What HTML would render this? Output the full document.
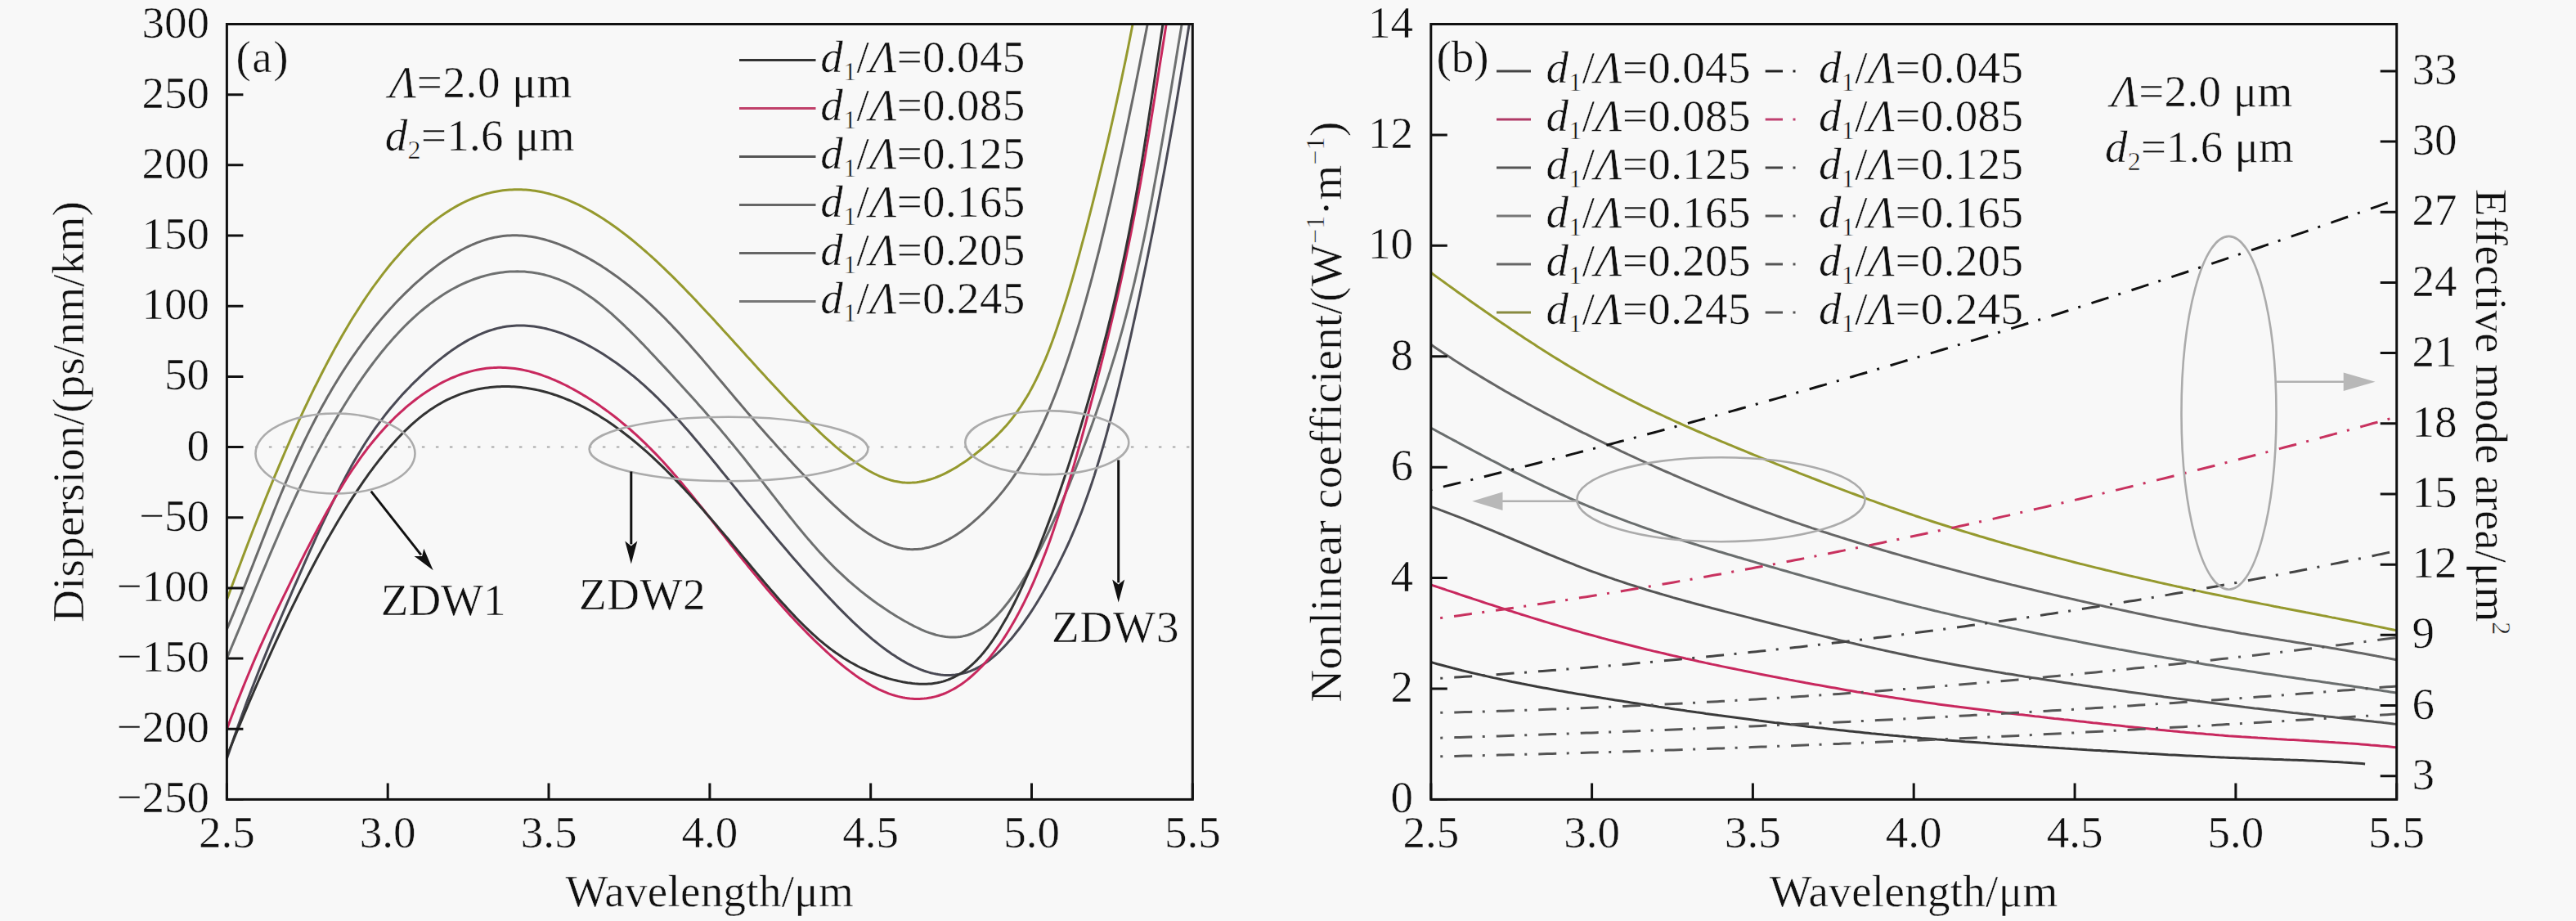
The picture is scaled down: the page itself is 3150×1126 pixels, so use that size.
<!DOCTYPE html>
<html><head><meta charset="utf-8"><title>Dispersion and nonlinearity</title>
<style>html,body{margin:0;padding:0;background:#f8f8f8;overflow:hidden}svg{display:block}text{font-family:"Liberation Serif","Times New Roman",serif;fill:#111;stroke:#f8f8f8;stroke-width:0.5px;paint-order:normal}</style></head><body>
<svg width="3150" height="1126" viewBox="0 0 3150 1126">
<rect x="0" y="0" width="3150" height="1126" fill="#f8f8f8"/>
<defs><clipPath id="ca"><rect x="277.4" y="29.5" width="1180.9" height="947.9"/></clipPath><clipPath id="cb"><rect x="1749.8" y="29.5" width="1180.8999999999999" height="947.9"/></clipPath></defs>
<line x1="289.4" y1="546.5" x2="1458.3" y2="546.5" stroke="#a8a8a8" stroke-width="2" stroke-dasharray="3.5 13.5" stroke-dashoffset="11.5"/>
<g clip-path="url(#ca)" fill="none" stroke-width="3" stroke-linejoin="round">
<path d="M277.4,733.3 L280.2,725.7 L283.0,718.1 L285.8,710.5 L288.6,702.9 L291.5,695.4 L294.3,688.0 L297.1,680.5 L299.9,673.1 L302.7,665.8 L305.5,658.5 L308.3,651.2 L311.1,644.0 L314.0,636.8 L316.8,629.6 L319.6,622.6 L322.4,615.5 L325.2,608.5 L328.0,601.6 L330.8,594.7 L333.6,587.9 L336.4,581.1 L339.3,574.3 L342.1,567.7 L344.9,561.1 L347.7,554.5 L350.5,548.0 L353.3,541.6 L356.1,535.2 L358.9,528.9 L361.8,522.6 L364.6,516.4 L367.4,510.3 L370.2,504.2 L373.0,498.2 L375.8,492.3 L378.6,486.4 L381.4,480.6 L384.2,474.8 L387.1,469.2 L389.9,463.6 L392.7,458.0 L395.5,452.5 L398.3,447.1 L401.1,441.8 L403.9,436.5 L406.7,431.3 L409.5,426.1 L412.4,421.1 L415.2,416.1 L418.0,411.1 L420.8,406.3 L423.6,401.5 L426.4,396.8 L429.2,392.1 L432.0,387.5 L434.9,383.0 L437.7,378.6 L440.5,374.2 L443.3,369.9 L446.1,365.7 L448.9,361.5 L451.7,357.5 L454.5,353.4 L457.3,349.5 L460.2,345.6 L463.0,341.8 L465.8,338.1 L468.6,334.4 L471.4,330.8 L474.2,327.3 L477.0,323.8 L479.8,320.4 L482.7,317.1 L485.5,313.9 L488.3,310.7 L491.1,307.5 L493.9,304.5 L496.7,301.5 L499.5,298.6 L502.3,295.7 L505.1,292.9 L508.0,290.2 L510.8,287.5 L513.6,284.9 L516.4,282.4 L519.2,279.9 L522.0,277.5 L524.8,275.2 L527.6,272.9 L530.5,270.7 L533.3,268.5 L536.1,266.4 L538.9,264.4 L541.7,262.4 L544.5,260.5 L547.3,258.7 L550.1,256.9 L552.9,255.2 L555.8,253.5 L558.6,251.9 L561.4,250.4 L564.2,248.9 L567.0,247.5 L569.8,246.2 L572.6,244.9 L575.4,243.7 L578.2,242.5 L581.1,241.4 L583.9,240.4 L586.7,239.4 L589.5,238.5 L592.3,237.6 L595.1,236.8 L597.9,236.1 L600.7,235.4 L603.6,234.7 L606.4,234.2 L609.2,233.7 L612.0,233.2 L614.8,232.8 L617.6,232.5 L620.4,232.2 L623.2,232.0 L626.0,231.9 L628.9,231.8 L631.7,231.7 L634.5,231.7 L637.3,231.8 L640.1,231.9 L642.9,232.1 L645.7,232.3 L648.5,232.6 L651.4,232.9 L654.2,233.3 L657.0,233.8 L659.8,234.3 L662.6,234.8 L665.4,235.4 L668.2,236.1 L671.0,236.8 L673.8,237.6 L676.7,238.4 L679.5,239.2 L682.3,240.1 L685.1,241.1 L687.9,242.1 L690.7,243.1 L693.5,244.2 L696.3,245.4 L699.1,246.6 L702.0,247.8 L704.8,249.1 L707.6,250.4 L710.4,251.8 L713.2,253.3 L716.0,254.7 L718.8,256.2 L721.6,257.8 L724.5,259.4 L727.3,261.1 L730.1,262.8 L732.9,264.5 L735.7,266.3 L738.5,268.1 L741.3,269.9 L744.1,271.8 L746.9,273.7 L749.8,275.7 L752.6,277.7 L755.4,279.8 L758.2,281.9 L761.0,284.0 L763.8,286.1 L766.6,288.3 L769.4,290.5 L772.3,292.8 L775.1,295.1 L777.9,297.4 L780.7,299.8 L783.5,302.2 L786.3,304.6 L789.1,307.0 L791.9,309.5 L794.7,312.0 L797.6,314.5 L800.4,317.1 L803.2,319.7 L806.0,322.3 L808.8,325.0 L811.6,327.7 L814.4,330.4 L817.2,333.1 L820.1,335.8 L822.9,338.6 L825.7,341.4 L828.5,344.2 L831.3,347.1 L834.1,349.9 L836.9,352.8 L839.7,355.7 L842.5,358.6 L845.4,361.5 L848.2,364.5 L851.0,367.4 L853.8,370.4 L856.6,373.4 L859.4,376.4 L862.2,379.4 L865.0,382.5 L867.9,385.5 L870.7,388.5 L873.5,391.6 L876.3,394.7 L879.1,397.7 L881.9,400.8 L884.7,403.9 L887.5,407.0 L890.3,410.1 L893.2,413.2 L896.0,416.3 L898.8,419.4 L901.6,422.5 L904.4,425.6 L907.2,428.7 L910.0,431.8 L912.8,434.9 L915.6,438.0 L918.5,441.1 L921.3,444.2 L924.1,447.3 L926.9,450.4 L929.7,453.5 L932.5,456.6 L935.3,459.6 L938.1,462.7 L941.0,465.7 L943.8,468.8 L946.6,471.8 L949.4,474.8 L952.2,477.8 L955.0,480.8 L957.8,483.8 L960.6,486.7 L963.4,489.7 L966.3,492.6 L969.1,495.5 L971.9,498.4 L974.7,501.3 L977.5,504.1 L980.3,507.0 L983.1,509.8 L985.9,512.6 L988.8,515.4 L991.6,518.1 L994.4,520.8 L997.2,523.5 L1000.0,526.2 L1002.8,528.9 L1005.6,531.5 L1008.4,534.1 L1011.2,536.6 L1014.1,539.2 L1016.9,541.7 L1019.7,544.1 L1022.5,546.6 L1025.3,548.9 L1028.1,551.3 L1030.9,553.6 L1033.7,555.8 L1036.6,558.0 L1039.4,560.2 L1042.2,562.3 L1045.0,564.3 L1047.8,566.3 L1050.6,568.2 L1053.4,570.0 L1056.2,571.8 L1059.0,573.5 L1061.9,575.2 L1064.7,576.7 L1067.5,578.2 L1070.3,579.7 L1073.1,581.0 L1075.9,582.3 L1078.7,583.4 L1081.5,584.5 L1084.3,585.5 L1087.2,586.4 L1090.0,587.3 L1092.8,588.0 L1095.6,588.6 L1098.4,589.1 L1101.2,589.6 L1104.0,589.9 L1106.8,590.1 L1109.7,590.2 L1112.5,590.2 L1115.3,590.1 L1118.1,589.9 L1120.9,589.7 L1123.7,589.3 L1126.5,588.8 L1129.3,588.2 L1132.1,587.6 L1135.0,586.8 L1137.8,586.0 L1140.6,585.1 L1143.4,584.1 L1146.2,583.0 L1149.0,581.8 L1151.8,580.6 L1154.6,579.3 L1157.5,577.9 L1160.3,576.4 L1163.1,574.9 L1165.9,573.3 L1168.7,571.7 L1171.5,569.9 L1174.3,568.1 L1177.1,566.3 L1179.9,564.4 L1182.8,562.4 L1185.6,560.4 L1188.4,558.3 L1191.2,556.2 L1194.0,554.0 L1196.8,551.8 L1199.6,549.5 L1202.4,547.2 L1205.2,544.8 L1208.1,542.4 L1210.9,540.0 L1213.7,537.4 L1216.5,534.8 L1219.3,532.1 L1222.1,529.3 L1224.9,526.4 L1227.7,523.3 L1230.6,520.2 L1233.4,516.9 L1236.2,513.5 L1239.0,509.9 L1241.8,506.1 L1244.6,502.2 L1247.4,498.2 L1250.2,493.9 L1253.0,489.4 L1255.9,484.7 L1258.7,479.9 L1261.5,474.8 L1264.3,469.4 L1267.1,463.8 L1269.9,458.0 L1272.7,451.9 L1275.5,445.5 L1278.4,438.9 L1281.2,432.0 L1284.0,424.8 L1286.8,417.3 L1289.6,409.5 L1292.4,401.4 L1295.2,393.1 L1298.0,384.6 L1300.8,375.8 L1303.7,366.7 L1306.5,357.5 L1309.3,348.0 L1312.1,338.3 L1314.9,328.5 L1317.7,318.4 L1320.5,308.1 L1323.3,297.7 L1326.2,287.1 L1329.0,276.4 L1331.8,265.5 L1334.6,254.5 L1337.4,243.4 L1340.2,232.1 L1343.0,220.7 L1345.8,209.2 L1348.6,197.6 L1351.5,185.8 L1354.3,173.9 L1357.1,161.8 L1359.9,149.5 L1362.7,137.1 L1365.5,124.4 L1368.3,111.5 L1371.1,98.4 L1373.9,85.0 L1376.8,71.4 L1379.6,57.5 L1382.4,43.3 L1385.2,28.9 L1388.0,14.2 L1390.8,-0.9 L1393.6,-16.3 L1396.4,-32.0 L1399.3,-48.1" stroke="#95992e"/>
<path d="M277.4,769.4 L280.3,762.7 L283.1,755.9 L286.0,749.0 L288.8,742.0 L291.7,734.9 L294.6,727.8 L297.4,720.6 L300.3,713.4 L303.1,706.1 L306.0,698.8 L308.9,691.5 L311.7,684.2 L314.6,676.9 L317.5,669.5 L320.3,662.2 L323.2,654.9 L326.0,647.6 L328.9,640.3 L331.8,633.1 L334.6,625.9 L337.5,618.8 L340.3,611.7 L343.2,604.7 L346.1,597.8 L348.9,590.9 L351.8,584.2 L354.6,577.5 L357.5,571.0 L360.4,564.6 L363.2,558.3 L366.1,552.1 L369.0,546.0 L371.8,540.0 L374.7,534.1 L377.5,528.3 L380.4,522.6 L383.3,517.0 L386.1,511.5 L389.0,506.1 L391.8,500.7 L394.7,495.5 L397.6,490.4 L400.4,485.3 L403.3,480.4 L406.1,475.5 L409.0,470.7 L411.9,466.0 L414.7,461.4 L417.6,456.8 L420.4,452.4 L423.3,448.0 L426.2,443.6 L429.0,439.4 L431.9,435.2 L434.8,431.1 L437.6,427.0 L440.5,423.1 L443.3,419.1 L446.2,415.3 L449.1,411.5 L451.9,407.8 L454.8,404.1 L457.6,400.5 L460.5,397.0 L463.4,393.5 L466.2,390.1 L469.1,386.7 L471.9,383.5 L474.8,380.2 L477.7,377.0 L480.5,373.9 L483.4,370.8 L486.3,367.8 L489.1,364.9 L492.0,362.0 L494.8,359.1 L497.7,356.3 L500.6,353.6 L503.4,350.9 L506.3,348.2 L509.1,345.6 L512.0,343.1 L514.9,340.6 L517.7,338.1 L520.6,335.7 L523.4,333.3 L526.3,331.0 L529.2,328.8 L532.0,326.6 L534.9,324.4 L537.8,322.3 L540.6,320.3 L543.5,318.3 L546.3,316.4 L549.2,314.5 L552.1,312.7 L554.9,310.9 L557.8,309.2 L560.6,307.6 L563.5,306.0 L566.4,304.5 L569.2,303.0 L572.1,301.6 L574.9,300.3 L577.8,299.0 L580.7,297.8 L583.5,296.6 L586.4,295.6 L589.2,294.6 L592.1,293.6 L595.0,292.7 L597.8,291.9 L600.7,291.2 L603.6,290.5 L606.4,289.9 L609.3,289.4 L612.1,288.9 L615.0,288.6 L617.9,288.3 L620.7,288.0 L623.6,287.9 L626.4,287.8 L629.3,287.7 L632.2,287.8 L635.0,287.9 L637.9,288.0 L640.7,288.3 L643.6,288.6 L646.5,288.9 L649.3,289.3 L652.2,289.8 L655.1,290.3 L657.9,290.9 L660.8,291.6 L663.6,292.3 L666.5,293.0 L669.4,293.9 L672.2,294.7 L675.1,295.6 L677.9,296.6 L680.8,297.6 L683.7,298.7 L686.5,299.8 L689.4,301.0 L692.2,302.2 L695.1,303.4 L698.0,304.7 L700.8,306.0 L703.7,307.4 L706.5,308.8 L709.4,310.3 L712.3,311.8 L715.1,313.3 L718.0,314.9 L720.9,316.5 L723.7,318.1 L726.6,319.8 L729.4,321.6 L732.3,323.3 L735.2,325.1 L738.0,327.0 L740.9,328.8 L743.7,330.8 L746.6,332.7 L749.5,334.7 L752.3,336.7 L755.2,338.8 L758.0,340.9 L760.9,343.1 L763.8,345.3 L766.6,347.5 L769.5,349.8 L772.4,352.1 L775.2,354.4 L778.1,356.8 L780.9,359.2 L783.8,361.7 L786.7,364.2 L789.5,366.7 L792.4,369.3 L795.2,371.9 L798.1,374.6 L801.0,377.3 L803.8,380.1 L806.7,382.8 L809.5,385.7 L812.4,388.5 L815.3,391.4 L818.1,394.4 L821.0,397.3 L823.8,400.4 L826.7,403.4 L829.6,406.5 L832.4,409.6 L835.3,412.7 L838.2,415.9 L841.0,419.0 L843.9,422.3 L846.7,425.5 L849.6,428.7 L852.5,432.0 L855.3,435.3 L858.2,438.6 L861.0,441.9 L863.9,445.3 L866.8,448.6 L869.6,452.0 L872.5,455.3 L875.3,458.7 L878.2,462.1 L881.1,465.5 L883.9,468.8 L886.8,472.2 L889.7,475.6 L892.5,479.0 L895.4,482.4 L898.2,485.8 L901.1,489.2 L904.0,492.5 L906.8,495.9 L909.7,499.3 L912.5,502.6 L915.4,505.9 L918.3,509.3 L921.1,512.6 L924.0,515.9 L926.8,519.2 L929.7,522.4 L932.6,525.7 L935.4,528.9 L938.3,532.2 L941.2,535.4 L944.0,538.6 L946.9,541.8 L949.7,545.0 L952.6,548.2 L955.5,551.3 L958.3,554.5 L961.2,557.6 L964.0,560.7 L966.9,563.8 L969.8,566.9 L972.6,569.9 L975.5,573.0 L978.3,576.0 L981.2,579.0 L984.1,582.0 L986.9,585.0 L989.8,587.9 L992.6,590.9 L995.5,593.8 L998.4,596.7 L1001.2,599.6 L1004.1,602.4 L1007.0,605.3 L1009.8,608.1 L1012.7,610.9 L1015.5,613.6 L1018.4,616.4 L1021.3,619.1 L1024.1,621.7 L1027.0,624.4 L1029.8,627.0 L1032.7,629.5 L1035.6,632.0 L1038.4,634.5 L1041.3,636.9 L1044.1,639.2 L1047.0,641.5 L1049.9,643.7 L1052.7,645.9 L1055.6,648.0 L1058.5,650.0 L1061.3,651.9 L1064.2,653.8 L1067.0,655.6 L1069.9,657.3 L1072.8,659.0 L1075.6,660.5 L1078.5,662.0 L1081.3,663.3 L1084.2,664.6 L1087.1,665.8 L1089.9,666.9 L1092.8,667.9 L1095.6,668.7 L1098.5,669.5 L1101.4,670.1 L1104.2,670.7 L1107.1,671.1 L1109.9,671.4 L1112.8,671.6 L1115.7,671.7 L1118.5,671.6 L1121.4,671.5 L1124.3,671.2 L1127.1,670.9 L1130.0,670.4 L1132.8,669.8 L1135.7,669.2 L1138.6,668.4 L1141.4,667.5 L1144.3,666.5 L1147.1,665.4 L1150.0,664.3 L1152.9,663.0 L1155.7,661.6 L1158.6,660.2 L1161.4,658.6 L1164.3,657.0 L1167.2,655.2 L1170.0,653.4 L1172.9,651.5 L1175.8,649.5 L1178.6,647.4 L1181.5,645.2 L1184.3,643.0 L1187.2,640.6 L1190.1,638.2 L1192.9,635.7 L1195.8,633.1 L1198.6,630.5 L1201.5,627.8 L1204.4,625.0 L1207.2,622.1 L1210.1,619.1 L1212.9,616.1 L1215.8,612.9 L1218.7,609.7 L1221.5,606.4 L1224.4,602.9 L1227.3,599.4 L1230.1,595.7 L1233.0,591.9 L1235.8,588.0 L1238.7,583.9 L1241.6,579.7 L1244.4,575.4 L1247.3,570.9 L1250.1,566.3 L1253.0,561.5 L1255.9,556.5 L1258.7,551.4 L1261.6,546.1 L1264.4,540.7 L1267.3,535.0 L1270.2,529.2 L1273.0,523.1 L1275.9,516.9 L1278.7,510.5 L1281.6,503.9 L1284.5,497.0 L1287.3,490.0 L1290.2,482.7 L1293.1,475.2 L1295.9,467.5 L1298.8,459.6 L1301.6,451.5 L1304.5,443.1 L1307.4,434.6 L1310.2,425.8 L1313.1,416.8 L1315.9,407.6 L1318.8,398.2 L1321.7,388.6 L1324.5,378.7 L1327.4,368.7 L1330.2,358.4 L1333.1,347.8 L1336.0,337.1 L1338.8,326.1 L1341.7,315.0 L1344.6,303.6 L1347.4,291.9 L1350.3,280.1 L1353.1,268.1 L1356.0,255.9 L1358.9,243.4 L1361.7,230.8 L1364.6,218.0 L1367.4,205.0 L1370.3,191.9 L1373.2,178.5 L1376.0,165.0 L1378.9,151.4 L1381.7,137.6 L1384.6,123.6 L1387.5,109.5 L1390.3,95.2 L1393.2,80.8 L1396.0,66.3 L1398.9,51.7 L1401.8,36.9 L1404.6,22.0 L1407.5,6.8 L1410.4,-8.6 L1413.2,-24.3 L1416.1,-40.3 L1418.9,-56.7" stroke="#6a6a6a"/>
<path d="M277.4,805.0 L280.4,797.9 L283.3,790.8 L286.3,783.7 L289.2,776.6 L292.2,769.5 L295.2,762.3 L298.1,755.1 L301.1,747.9 L304.0,740.8 L307.0,733.6 L310.0,726.4 L312.9,719.2 L315.9,712.1 L318.8,705.0 L321.8,697.9 L324.8,690.8 L327.7,683.7 L330.7,676.7 L333.6,669.8 L336.6,662.8 L339.6,656.0 L342.5,649.2 L345.5,642.4 L348.4,635.7 L351.4,629.1 L354.4,622.5 L357.3,616.1 L360.3,609.7 L363.2,603.4 L366.2,597.1 L369.1,591.0 L372.1,584.9 L375.1,578.9 L378.0,572.9 L381.0,567.1 L383.9,561.3 L386.9,555.6 L389.9,550.0 L392.8,544.5 L395.8,539.0 L398.7,533.6 L401.7,528.3 L404.7,523.1 L407.6,517.9 L410.6,512.8 L413.5,507.8 L416.5,502.9 L419.5,498.0 L422.4,493.2 L425.4,488.5 L428.3,483.9 L431.3,479.3 L434.3,474.9 L437.2,470.4 L440.2,466.1 L443.1,461.8 L446.1,457.6 L449.1,453.5 L452.0,449.5 L455.0,445.5 L457.9,441.6 L460.9,437.8 L463.9,434.0 L466.8,430.3 L469.8,426.7 L472.7,423.1 L475.7,419.7 L478.7,416.3 L481.6,412.9 L484.6,409.7 L487.5,406.5 L490.5,403.4 L493.5,400.3 L496.4,397.3 L499.4,394.4 L502.3,391.6 L505.3,388.8 L508.3,386.1 L511.2,383.5 L514.2,380.9 L517.1,378.5 L520.1,376.0 L523.1,373.7 L526.0,371.4 L529.0,369.2 L531.9,367.0 L534.9,364.9 L537.8,362.9 L540.8,361.0 L543.8,359.1 L546.7,357.3 L549.7,355.5 L552.6,353.8 L555.6,352.2 L558.6,350.6 L561.5,349.1 L564.5,347.7 L567.4,346.3 L570.4,345.0 L573.4,343.8 L576.3,342.6 L579.3,341.5 L582.2,340.5 L585.2,339.5 L588.2,338.5 L591.1,337.7 L594.1,336.9 L597.0,336.1 L600.0,335.4 L603.0,334.8 L605.9,334.2 L608.9,333.7 L611.8,333.3 L614.8,332.9 L617.8,332.6 L620.7,332.3 L623.7,332.1 L626.6,331.9 L629.6,331.9 L632.6,331.8 L635.5,331.9 L638.5,332.0 L641.4,332.1 L644.4,332.4 L647.4,332.7 L650.3,333.0 L653.3,333.4 L656.2,333.9 L659.2,334.5 L662.2,335.1 L665.1,335.8 L668.1,336.6 L671.0,337.4 L674.0,338.3 L677.0,339.3 L679.9,340.3 L682.9,341.4 L685.8,342.6 L688.8,343.8 L691.8,345.2 L694.7,346.5 L697.7,348.0 L700.6,349.6 L703.6,351.2 L706.5,352.9 L709.5,354.6 L712.5,356.5 L715.4,358.4 L718.4,360.4 L721.3,362.4 L724.3,364.5 L727.3,366.7 L730.2,369.0 L733.2,371.3 L736.1,373.7 L739.1,376.1 L742.1,378.6 L745.0,381.2 L748.0,383.7 L750.9,386.4 L753.9,389.1 L756.9,391.8 L759.8,394.6 L762.8,397.4 L765.7,400.3 L768.7,403.1 L771.7,406.1 L774.6,409.0 L777.6,412.0 L780.5,415.0 L783.5,418.1 L786.5,421.1 L789.4,424.2 L792.4,427.3 L795.3,430.5 L798.3,433.6 L801.3,436.7 L804.2,439.9 L807.2,443.1 L810.1,446.2 L813.1,449.4 L816.1,452.6 L819.0,455.8 L822.0,459.0 L824.9,462.2 L827.9,465.5 L830.9,468.7 L833.8,471.9 L836.8,475.2 L839.7,478.4 L842.7,481.7 L845.7,485.0 L848.6,488.3 L851.6,491.6 L854.5,494.9 L857.5,498.3 L860.5,501.6 L863.4,505.0 L866.4,508.4 L869.3,511.8 L872.3,515.2 L875.2,518.6 L878.2,522.1 L881.2,525.6 L884.1,529.1 L887.1,532.6 L890.0,536.1 L893.0,539.7 L896.0,543.3 L898.9,546.9 L901.9,550.5 L904.8,554.1 L907.8,557.8 L910.8,561.5 L913.7,565.2 L916.7,569.0 L919.6,572.7 L922.6,576.5 L925.6,580.3 L928.5,584.1 L931.5,587.9 L934.4,591.7 L937.4,595.5 L940.4,599.3 L943.3,603.1 L946.3,606.9 L949.2,610.7 L952.2,614.5 L955.2,618.3 L958.1,622.1 L961.1,625.8 L964.0,629.5 L967.0,633.2 L970.0,636.9 L972.9,640.6 L975.9,644.2 L978.8,647.8 L981.8,651.4 L984.8,654.9 L987.7,658.4 L990.7,661.8 L993.6,665.3 L996.6,668.6 L999.6,671.9 L1002.5,675.2 L1005.5,678.4 L1008.4,681.6 L1011.4,684.7 L1014.4,687.7 L1017.3,690.7 L1020.3,693.7 L1023.2,696.6 L1026.2,699.4 L1029.2,702.2 L1032.1,704.9 L1035.1,707.6 L1038.0,710.3 L1041.0,712.9 L1043.9,715.4 L1046.9,717.9 L1049.9,720.4 L1052.8,722.8 L1055.8,725.2 L1058.7,727.5 L1061.7,729.8 L1064.7,732.0 L1067.6,734.2 L1070.6,736.4 L1073.5,738.5 L1076.5,740.5 L1079.5,742.6 L1082.4,744.6 L1085.4,746.5 L1088.3,748.4 L1091.3,750.3 L1094.3,752.2 L1097.2,754.0 L1100.2,755.7 L1103.1,757.5 L1106.1,759.2 L1109.1,760.8 L1112.0,762.5 L1115.0,764.0 L1117.9,765.6 L1120.9,767.0 L1123.9,768.4 L1126.8,769.8 L1129.8,771.1 L1132.7,772.3 L1135.7,773.4 L1138.7,774.4 L1141.6,775.3 L1144.6,776.2 L1147.5,776.9 L1150.5,777.6 L1153.5,778.1 L1156.4,778.5 L1159.4,778.8 L1162.3,779.0 L1165.3,779.1 L1168.3,779.0 L1171.2,778.8 L1174.2,778.4 L1177.1,777.9 L1180.1,777.3 L1183.1,776.5 L1186.0,775.5 L1189.0,774.3 L1191.9,773.0 L1194.9,771.5 L1197.9,769.9 L1200.8,768.0 L1203.8,766.0 L1206.7,763.8 L1209.7,761.3 L1212.6,758.7 L1215.6,755.9 L1218.6,753.0 L1221.5,749.8 L1224.5,746.5 L1227.4,743.0 L1230.4,739.3 L1233.4,735.5 L1236.3,731.5 L1239.3,727.3 L1242.2,723.0 L1245.2,718.5 L1248.2,713.9 L1251.1,709.1 L1254.1,704.2 L1257.0,699.1 L1260.0,693.9 L1263.0,688.5 L1265.9,683.0 L1268.9,677.4 L1271.8,671.6 L1274.8,665.7 L1277.8,659.7 L1280.7,653.5 L1283.7,647.3 L1286.6,640.9 L1289.6,634.4 L1292.6,627.7 L1295.5,621.0 L1298.5,614.1 L1301.4,607.1 L1304.4,600.0 L1307.4,592.8 L1310.3,585.5 L1313.3,578.0 L1316.2,570.5 L1319.2,562.8 L1322.2,555.0 L1325.1,547.1 L1328.1,539.1 L1331.0,531.1 L1334.0,522.9 L1337.0,514.6 L1339.9,506.2 L1342.9,497.6 L1345.8,489.0 L1348.8,480.2 L1351.8,471.3 L1354.7,462.2 L1357.7,452.9 L1360.6,443.4 L1363.6,433.7 L1366.6,423.7 L1369.5,413.4 L1372.5,402.8 L1375.4,391.9 L1378.4,380.7 L1381.3,369.1 L1384.3,357.2 L1387.3,344.9 L1390.2,332.1 L1393.2,318.9 L1396.1,305.3 L1399.1,291.2 L1402.1,276.6 L1405.0,261.6 L1408.0,246.2 L1410.9,230.3 L1413.9,214.1 L1416.9,197.6 L1419.8,180.8 L1422.8,163.7 L1425.7,146.4 L1428.7,128.9 L1431.7,111.2 L1434.6,93.4 L1437.6,75.5 L1440.5,57.6 L1443.5,39.6 L1446.5,21.6 L1449.4,3.7 L1452.4,-14.2 L1455.3,-31.9 L1458.3,-49.5" stroke="#6e7070"/>
<path d="M277.4,927.6 L280.4,918.7 L283.4,909.9 L286.3,901.2 L289.3,892.7 L292.3,884.3 L295.3,876.0 L298.3,867.8 L301.2,859.8 L304.2,851.9 L307.2,844.1 L310.2,836.4 L313.2,828.7 L316.1,821.2 L319.1,813.8 L322.1,806.4 L325.1,799.1 L328.0,791.9 L331.0,784.7 L334.0,777.6 L337.0,770.5 L340.0,763.5 L342.9,756.5 L345.9,749.5 L348.9,742.6 L351.9,735.7 L354.9,728.8 L357.8,722.0 L360.8,715.1 L363.8,708.3 L366.8,701.4 L369.8,694.7 L372.7,687.9 L375.7,681.1 L378.7,674.4 L381.7,667.8 L384.7,661.2 L387.6,654.6 L390.6,648.1 L393.6,641.7 L396.6,635.3 L399.6,629.0 L402.5,622.8 L405.5,616.6 L408.5,610.5 L411.5,604.5 L414.5,598.6 L417.4,592.8 L420.4,587.1 L423.4,581.5 L426.4,576.0 L429.3,570.6 L432.3,565.3 L435.3,560.2 L438.3,555.2 L441.3,550.3 L444.2,545.5 L447.2,540.8 L450.2,536.2 L453.2,531.8 L456.2,527.4 L459.1,523.2 L462.1,519.1 L465.1,515.0 L468.1,511.1 L471.1,507.2 L474.0,503.5 L477.0,499.8 L480.0,496.2 L483.0,492.7 L486.0,489.3 L488.9,485.9 L491.9,482.6 L494.9,479.4 L497.9,476.3 L500.9,473.2 L503.8,470.1 L506.8,467.2 L509.8,464.3 L512.8,461.4 L515.8,458.6 L518.7,455.9 L521.7,453.2 L524.7,450.5 L527.7,447.9 L530.6,445.4 L533.6,442.9 L536.6,440.4 L539.6,438.1 L542.6,435.7 L545.5,433.5 L548.5,431.3 L551.5,429.1 L554.5,427.1 L557.5,425.0 L560.4,423.1 L563.4,421.2 L566.4,419.4 L569.4,417.6 L572.4,415.9 L575.3,414.3 L578.3,412.8 L581.3,411.3 L584.3,409.9 L587.3,408.6 L590.2,407.3 L593.2,406.1 L596.2,405.0 L599.2,404.0 L602.2,403.1 L605.1,402.2 L608.1,401.4 L611.1,400.7 L614.1,400.1 L617.0,399.6 L620.0,399.1 L623.0,398.7 L626.0,398.4 L629.0,398.2 L631.9,398.0 L634.9,398.0 L637.9,398.0 L640.9,398.1 L643.9,398.2 L646.8,398.4 L649.8,398.7 L652.8,399.1 L655.8,399.5 L658.8,400.0 L661.7,400.5 L664.7,401.1 L667.7,401.8 L670.7,402.6 L673.7,403.4 L676.6,404.2 L679.6,405.1 L682.6,406.1 L685.6,407.1 L688.6,408.2 L691.5,409.3 L694.5,410.5 L697.5,411.8 L700.5,413.1 L703.5,414.4 L706.4,415.8 L709.4,417.2 L712.4,418.7 L715.4,420.2 L718.3,421.8 L721.3,423.4 L724.3,425.0 L727.3,426.7 L730.3,428.5 L733.2,430.3 L736.2,432.1 L739.2,434.0 L742.2,435.9 L745.2,437.9 L748.1,439.9 L751.1,442.0 L754.1,444.1 L757.1,446.3 L760.1,448.5 L763.0,450.7 L766.0,453.0 L769.0,455.4 L772.0,457.8 L775.0,460.2 L777.9,462.7 L780.9,465.2 L783.9,467.8 L786.9,470.4 L789.9,473.1 L792.8,475.8 L795.8,478.6 L798.8,481.4 L801.8,484.3 L804.8,487.2 L807.7,490.2 L810.7,493.2 L813.7,496.2 L816.7,499.3 L819.6,502.5 L822.6,505.7 L825.6,508.9 L828.6,512.2 L831.6,515.5 L834.5,518.8 L837.5,522.2 L840.5,525.6 L843.5,529.0 L846.5,532.5 L849.4,536.0 L852.4,539.5 L855.4,543.0 L858.4,546.6 L861.4,550.2 L864.3,553.8 L867.3,557.4 L870.3,561.0 L873.3,564.7 L876.3,568.3 L879.2,572.0 L882.2,575.7 L885.2,579.4 L888.2,583.0 L891.2,586.7 L894.1,590.4 L897.1,594.1 L900.1,597.8 L903.1,601.5 L906.0,605.2 L909.0,608.9 L912.0,612.6 L915.0,616.2 L918.0,619.9 L920.9,623.5 L923.9,627.2 L926.9,630.8 L929.9,634.4 L932.9,638.0 L935.8,641.6 L938.8,645.2 L941.8,648.8 L944.8,652.4 L947.8,655.9 L950.7,659.5 L953.7,663.0 L956.7,666.5 L959.7,670.0 L962.7,673.5 L965.6,677.0 L968.6,680.4 L971.6,683.9 L974.6,687.3 L977.6,690.7 L980.5,694.1 L983.5,697.5 L986.5,700.8 L989.5,704.2 L992.5,707.5 L995.4,710.8 L998.4,714.1 L1001.4,717.3 L1004.4,720.6 L1007.3,723.8 L1010.3,727.0 L1013.3,730.1 L1016.3,733.3 L1019.3,736.4 L1022.2,739.5 L1025.2,742.6 L1028.2,745.6 L1031.2,748.6 L1034.2,751.6 L1037.1,754.5 L1040.1,757.4 L1043.1,760.3 L1046.1,763.1 L1049.1,765.9 L1052.0,768.6 L1055.0,771.3 L1058.0,773.9 L1061.0,776.5 L1064.0,779.1 L1066.9,781.6 L1069.9,784.0 L1072.9,786.4 L1075.9,788.8 L1078.9,791.1 L1081.8,793.3 L1084.8,795.5 L1087.8,797.6 L1090.8,799.7 L1093.8,801.6 L1096.7,803.6 L1099.7,805.4 L1102.7,807.2 L1105.7,808.9 L1108.6,810.6 L1111.6,812.2 L1114.6,813.7 L1117.6,815.1 L1120.6,816.4 L1123.5,817.7 L1126.5,818.9 L1129.5,820.0 L1132.5,821.0 L1135.5,821.9 L1138.4,822.7 L1141.4,823.4 L1144.4,824.0 L1147.4,824.5 L1150.4,824.9 L1153.3,825.2 L1156.3,825.4 L1159.3,825.5 L1162.3,825.4 L1165.3,825.2 L1168.2,825.0 L1171.2,824.6 L1174.2,824.0 L1177.2,823.4 L1180.2,822.6 L1183.1,821.7 L1186.1,820.6 L1189.1,819.4 L1192.1,818.1 L1195.0,816.6 L1198.0,815.0 L1201.0,813.2 L1204.0,811.3 L1207.0,809.2 L1209.9,807.0 L1212.9,804.6 L1215.9,802.1 L1218.9,799.5 L1221.9,796.7 L1224.8,793.8 L1227.8,790.7 L1230.8,787.5 L1233.8,784.1 L1236.8,780.7 L1239.7,777.1 L1242.7,773.3 L1245.7,769.5 L1248.7,765.5 L1251.7,761.4 L1254.6,757.1 L1257.6,752.8 L1260.6,748.3 L1263.6,743.7 L1266.6,739.0 L1269.5,734.2 L1272.5,729.2 L1275.5,724.2 L1278.5,719.0 L1281.5,713.8 L1284.4,708.4 L1287.4,702.9 L1290.4,697.3 L1293.4,691.6 L1296.3,685.7 L1299.3,679.6 L1302.3,673.4 L1305.3,667.0 L1308.3,660.4 L1311.2,653.6 L1314.2,646.6 L1317.2,639.4 L1320.2,631.9 L1323.2,624.2 L1326.1,616.2 L1329.1,608.0 L1332.1,599.5 L1335.1,590.7 L1338.1,581.6 L1341.0,572.1 L1344.0,562.4 L1347.0,552.4 L1350.0,542.1 L1353.0,531.4 L1355.9,520.5 L1358.9,509.3 L1361.9,497.9 L1364.9,486.2 L1367.9,474.2 L1370.8,461.9 L1373.8,449.4 L1376.8,436.7 L1379.8,423.8 L1382.8,410.6 L1385.7,397.2 L1388.7,383.6 L1391.7,369.8 L1394.7,355.8 L1397.6,341.6 L1400.6,327.2 L1403.6,312.6 L1406.6,297.8 L1409.6,282.9 L1412.5,267.7 L1415.5,252.4 L1418.5,236.8 L1421.5,220.9 L1424.5,204.9 L1427.4,188.5 L1430.4,172.0 L1433.4,155.1 L1436.4,138.0 L1439.4,120.6 L1442.3,102.9 L1445.3,85.0 L1448.3,66.7 L1451.3,48.1 L1454.3,29.2 L1457.2,10.0 L1460.2,-9.6 L1463.2,-29.5 L1466.2,-49.8" stroke="#4a4a55"/>
<path d="M277.4,891.7 L280.3,883.8 L283.2,876.0 L286.1,868.4 L289.0,860.8 L292.0,853.4 L294.9,846.1 L297.8,838.9 L300.7,831.7 L303.6,824.7 L306.5,817.8 L309.4,810.9 L312.3,804.2 L315.2,797.5 L318.1,790.9 L321.1,784.3 L324.0,777.9 L326.9,771.5 L329.8,765.1 L332.7,758.9 L335.6,752.6 L338.5,746.5 L341.4,740.4 L344.3,734.3 L347.2,728.3 L350.2,722.3 L353.1,716.3 L356.0,710.4 L358.9,704.5 L361.8,698.6 L364.7,692.8 L367.6,686.9 L370.5,681.2 L373.4,675.4 L376.4,669.8 L379.3,664.1 L382.2,658.5 L385.1,653.0 L388.0,647.5 L390.9,642.0 L393.8,636.6 L396.7,631.3 L399.6,626.1 L402.5,620.9 L405.5,615.7 L408.4,610.7 L411.3,605.7 L414.2,600.8 L417.1,596.0 L420.0,591.2 L422.9,586.5 L425.8,582.0 L428.7,577.5 L431.6,573.1 L434.6,568.8 L437.5,564.6 L440.4,560.4 L443.3,556.4 L446.2,552.5 L449.1,548.7 L452.0,544.9 L454.9,541.3 L457.8,537.7 L460.8,534.2 L463.7,530.8 L466.6,527.5 L469.5,524.3 L472.4,521.1 L475.3,518.1 L478.2,515.1 L481.1,512.2 L484.0,509.3 L486.9,506.6 L489.9,503.9 L492.8,501.3 L495.7,498.7 L498.6,496.2 L501.5,493.8 L504.4,491.5 L507.3,489.2 L510.2,487.0 L513.1,484.9 L516.0,482.8 L519.0,480.8 L521.9,478.8 L524.8,477.0 L527.7,475.1 L530.6,473.4 L533.5,471.7 L536.4,470.0 L539.3,468.4 L542.2,466.9 L545.1,465.5 L548.1,464.1 L551.0,462.7 L553.9,461.5 L556.8,460.3 L559.7,459.1 L562.6,458.0 L565.5,457.0 L568.4,456.1 L571.3,455.2 L574.3,454.4 L577.2,453.6 L580.1,452.9 L583.0,452.3 L585.9,451.7 L588.8,451.2 L591.7,450.7 L594.6,450.3 L597.5,450.0 L600.4,449.7 L603.4,449.6 L606.3,449.4 L609.2,449.3 L612.1,449.3 L615.0,449.4 L617.9,449.5 L620.8,449.7 L623.7,449.9 L626.6,450.2 L629.5,450.6 L632.5,451.0 L635.4,451.5 L638.3,452.0 L641.2,452.6 L644.1,453.2 L647.0,453.9 L649.9,454.7 L652.8,455.5 L655.7,456.4 L658.7,457.3 L661.6,458.2 L664.5,459.3 L667.4,460.3 L670.3,461.4 L673.2,462.6 L676.1,463.8 L679.0,465.0 L681.9,466.3 L684.8,467.7 L687.8,469.1 L690.7,470.5 L693.6,471.9 L696.5,473.5 L699.4,475.0 L702.3,476.6 L705.2,478.2 L708.1,479.9 L711.0,481.6 L713.9,483.4 L716.9,485.1 L719.8,487.0 L722.7,488.8 L725.6,490.7 L728.5,492.6 L731.4,494.6 L734.3,496.6 L737.2,498.7 L740.1,500.8 L743.1,502.9 L746.0,505.1 L748.9,507.3 L751.8,509.5 L754.7,511.8 L757.6,514.2 L760.5,516.6 L763.4,519.0 L766.3,521.4 L769.2,523.9 L772.2,526.5 L775.1,529.1 L778.0,531.7 L780.9,534.4 L783.8,537.1 L786.7,539.9 L789.6,542.7 L792.5,545.5 L795.4,548.4 L798.3,551.4 L801.3,554.4 L804.2,557.4 L807.1,560.5 L810.0,563.6 L812.9,566.8 L815.8,570.0 L818.7,573.3 L821.6,576.6 L824.5,579.9 L827.5,583.3 L830.4,586.7 L833.3,590.2 L836.2,593.7 L839.1,597.2 L842.0,600.7 L844.9,604.2 L847.8,607.8 L850.7,611.4 L853.6,615.0 L856.6,618.7 L859.5,622.3 L862.4,626.0 L865.3,629.7 L868.2,633.4 L871.1,637.1 L874.0,640.8 L876.9,644.5 L879.8,648.2 L882.7,651.9 L885.7,655.6 L888.6,659.3 L891.5,663.0 L894.4,666.7 L897.3,670.4 L900.2,674.1 L903.1,677.7 L906.0,681.4 L908.9,685.0 L911.9,688.6 L914.8,692.2 L917.7,695.8 L920.6,699.4 L923.5,702.9 L926.4,706.4 L929.3,709.9 L932.2,713.4 L935.1,716.8 L938.0,720.3 L941.0,723.7 L943.9,727.0 L946.8,730.4 L949.7,733.7 L952.6,737.0 L955.5,740.3 L958.4,743.6 L961.3,746.8 L964.2,750.0 L967.1,753.2 L970.1,756.3 L973.0,759.4 L975.9,762.5 L978.8,765.5 L981.7,768.5 L984.6,771.5 L987.5,774.5 L990.4,777.4 L993.3,780.3 L996.2,783.1 L999.2,786.0 L1002.1,788.7 L1005.0,791.5 L1007.9,794.2 L1010.8,796.9 L1013.7,799.5 L1016.6,802.1 L1019.5,804.6 L1022.4,807.1 L1025.4,809.6 L1028.3,812.0 L1031.2,814.4 L1034.1,816.7 L1037.0,818.9 L1039.9,821.1 L1042.8,823.3 L1045.7,825.4 L1048.6,827.4 L1051.5,829.4 L1054.5,831.3 L1057.4,833.1 L1060.3,834.9 L1063.2,836.6 L1066.1,838.3 L1069.0,839.8 L1071.9,841.4 L1074.8,842.8 L1077.7,844.1 L1080.6,845.4 L1083.6,846.6 L1086.5,847.8 L1089.4,848.8 L1092.3,849.8 L1095.2,850.6 L1098.1,851.4 L1101.0,852.1 L1103.9,852.8 L1106.8,853.3 L1109.8,853.7 L1112.7,854.1 L1115.6,854.3 L1118.5,854.5 L1121.4,854.5 L1124.3,854.5 L1127.2,854.3 L1130.1,854.1 L1133.0,853.8 L1135.9,853.3 L1138.9,852.8 L1141.8,852.1 L1144.7,851.4 L1147.6,850.5 L1150.5,849.5 L1153.4,848.5 L1156.3,847.3 L1159.2,846.0 L1162.1,844.5 L1165.0,843.0 L1168.0,841.4 L1170.9,839.6 L1173.8,837.7 L1176.7,835.7 L1179.6,833.6 L1182.5,831.4 L1185.4,829.0 L1188.3,826.5 L1191.2,823.9 L1194.2,821.2 L1197.1,818.3 L1200.0,815.4 L1202.9,812.2 L1205.8,809.0 L1208.7,805.6 L1211.6,802.1 L1214.5,798.4 L1217.4,794.6 L1220.3,790.7 L1223.3,786.6 L1226.2,782.3 L1229.1,777.9 L1232.0,773.3 L1234.9,768.5 L1237.8,763.6 L1240.7,758.6 L1243.6,753.3 L1246.5,747.9 L1249.4,742.2 L1252.4,736.4 L1255.3,730.4 L1258.2,724.3 L1261.1,717.9 L1264.0,711.3 L1266.9,704.5 L1269.8,697.5 L1272.7,690.3 L1275.6,682.9 L1278.6,675.3 L1281.5,667.4 L1284.4,659.4 L1287.3,651.1 L1290.2,642.6 L1293.1,633.9 L1296.0,625.0 L1298.9,615.9 L1301.8,606.7 L1304.7,597.2 L1307.7,587.6 L1310.6,577.8 L1313.5,567.8 L1316.4,557.7 L1319.3,547.5 L1322.2,537.1 L1325.1,526.5 L1328.0,515.8 L1330.9,505.0 L1333.8,494.1 L1336.8,483.1 L1339.7,472.0 L1342.6,460.7 L1345.5,449.3 L1348.4,437.9 L1351.3,426.2 L1354.2,414.4 L1357.1,402.4 L1360.0,390.2 L1362.9,377.8 L1365.9,365.1 L1368.8,352.2 L1371.7,339.0 L1374.6,325.5 L1377.5,311.7 L1380.4,297.6 L1383.3,283.1 L1386.2,268.3 L1389.1,253.0 L1392.1,237.4 L1395.0,221.4 L1397.9,204.9 L1400.8,188.0 L1403.7,170.7 L1406.6,153.0 L1409.5,135.0 L1412.4,116.7 L1415.3,98.3 L1418.2,79.7 L1421.2,61.1 L1424.1,42.5 L1427.0,24.0 L1429.9,5.6 L1432.8,-12.6 L1435.7,-30.6 L1438.6,-48.2" stroke="#c8285e"/>
<path d="M277.4,924.4 L280.3,917.3 L283.2,910.2 L286.1,903.1 L289.0,896.1 L291.9,889.1 L294.8,882.2 L297.7,875.2 L300.6,868.4 L303.5,861.5 L306.4,854.7 L309.3,848.0 L312.2,841.2 L315.1,834.5 L318.0,827.9 L320.9,821.3 L323.8,814.8 L326.7,808.2 L329.6,801.8 L332.5,795.4 L335.4,789.0 L338.3,782.7 L341.2,776.4 L344.1,770.1 L347.0,764.0 L349.9,757.8 L352.8,751.7 L355.7,745.7 L358.6,739.7 L361.5,733.8 L364.4,727.9 L367.3,722.1 L370.2,716.3 L373.1,710.6 L376.0,704.9 L378.9,699.3 L381.8,693.7 L384.7,688.2 L387.6,682.8 L390.5,677.4 L393.4,672.1 L396.3,666.8 L399.2,661.6 L402.1,656.5 L405.0,651.4 L407.9,646.4 L410.8,641.4 L413.7,636.5 L416.6,631.7 L419.5,626.9 L422.4,622.2 L425.3,617.5 L428.2,612.9 L431.1,608.4 L434.0,604.0 L436.9,599.6 L439.8,595.3 L442.7,591.1 L445.6,586.9 L448.5,582.8 L451.4,578.7 L454.3,574.8 L457.2,570.9 L460.1,567.1 L463.0,563.3 L465.9,559.7 L468.8,556.1 L471.7,552.5 L474.6,549.1 L477.5,545.7 L480.4,542.4 L483.3,539.2 L486.2,536.1 L489.1,533.0 L492.0,530.0 L494.9,527.1 L497.8,524.3 L500.7,521.6 L503.6,518.9 L506.5,516.3 L509.4,513.8 L512.3,511.4 L515.2,509.1 L518.1,506.8 L521.0,504.7 L523.9,502.6 L526.8,500.6 L529.7,498.7 L532.6,496.8 L535.5,495.0 L538.4,493.4 L541.3,491.7 L544.2,490.2 L547.1,488.7 L550.0,487.3 L552.9,486.0 L555.8,484.8 L558.7,483.6 L561.6,482.4 L564.5,481.4 L567.4,480.4 L570.3,479.5 L573.2,478.6 L576.1,477.8 L579.0,477.1 L581.9,476.4 L584.8,475.8 L587.7,475.2 L590.6,474.7 L593.5,474.3 L596.5,473.9 L599.4,473.5 L602.3,473.2 L605.2,473.0 L608.1,472.8 L611.0,472.7 L613.9,472.6 L616.8,472.5 L619.7,472.5 L622.6,472.6 L625.5,472.7 L628.4,472.8 L631.3,473.0 L634.2,473.3 L637.1,473.6 L640.0,473.9 L642.9,474.3 L645.8,474.7 L648.7,475.2 L651.6,475.7 L654.5,476.3 L657.4,476.9 L660.3,477.5 L663.2,478.2 L666.1,479.0 L669.0,479.8 L671.9,480.6 L674.8,481.5 L677.7,482.5 L680.6,483.4 L683.5,484.5 L686.4,485.5 L689.3,486.6 L692.2,487.8 L695.1,489.0 L698.0,490.2 L700.9,491.5 L703.8,492.9 L706.7,494.2 L709.6,495.7 L712.5,497.1 L715.4,498.6 L718.3,500.2 L721.2,501.8 L724.1,503.4 L727.0,505.1 L729.9,506.8 L732.8,508.6 L735.7,510.4 L738.6,512.2 L741.5,514.1 L744.4,516.1 L747.3,518.0 L750.2,520.0 L753.1,522.1 L756.0,524.2 L758.9,526.3 L761.8,528.5 L764.7,530.7 L767.6,533.0 L770.5,535.3 L773.4,537.6 L776.3,540.0 L779.2,542.4 L782.1,544.8 L785.0,547.3 L787.9,549.9 L790.8,552.4 L793.7,555.0 L796.6,557.7 L799.5,560.3 L802.4,563.1 L805.3,565.8 L808.2,568.6 L811.1,571.4 L814.0,574.3 L816.9,577.2 L819.8,580.1 L822.7,583.1 L825.6,586.1 L828.5,589.1 L831.4,592.1 L834.3,595.2 L837.2,598.3 L840.1,601.5 L843.0,604.6 L845.9,607.8 L848.8,611.0 L851.7,614.2 L854.6,617.5 L857.5,620.8 L860.4,624.1 L863.3,627.4 L866.2,630.7 L869.1,634.0 L872.0,637.4 L874.9,640.8 L877.8,644.2 L880.7,647.6 L883.6,651.0 L886.5,654.4 L889.4,657.8 L892.3,661.3 L895.2,664.7 L898.1,668.2 L901.0,671.7 L903.9,675.1 L906.8,678.6 L909.7,682.1 L912.6,685.5 L915.5,689.0 L918.4,692.5 L921.3,696.0 L924.2,699.4 L927.1,702.9 L930.0,706.3 L932.9,709.7 L935.8,713.1 L938.7,716.5 L941.6,719.9 L944.5,723.3 L947.4,726.6 L950.3,729.9 L953.2,733.2 L956.1,736.4 L959.0,739.6 L961.9,742.8 L964.8,746.0 L967.7,749.1 L970.6,752.1 L973.5,755.2 L976.4,758.2 L979.3,761.1 L982.2,764.0 L985.1,766.8 L988.0,769.6 L990.9,772.4 L993.8,775.1 L996.7,777.7 L999.6,780.3 L1002.5,782.8 L1005.4,785.2 L1008.3,787.6 L1011.2,789.9 L1014.1,792.2 L1017.0,794.4 L1019.9,796.5 L1022.8,798.6 L1025.7,800.6 L1028.6,802.5 L1031.5,804.4 L1034.4,806.2 L1037.3,808.0 L1040.2,809.7 L1043.1,811.3 L1046.0,812.9 L1048.9,814.5 L1051.8,816.0 L1054.7,817.4 L1057.6,818.7 L1060.5,820.1 L1063.4,821.3 L1066.3,822.5 L1069.2,823.7 L1072.1,824.8 L1075.0,825.8 L1077.9,826.8 L1080.8,827.8 L1083.7,828.7 L1086.6,829.6 L1089.5,830.4 L1092.4,831.1 L1095.3,831.8 L1098.2,832.5 L1101.1,833.1 L1104.0,833.7 L1106.9,834.2 L1109.8,834.7 L1112.7,835.1 L1115.6,835.5 L1118.5,835.8 L1121.4,836.0 L1124.3,836.2 L1127.2,836.3 L1130.1,836.3 L1133.0,836.3 L1135.9,836.1 L1138.8,835.9 L1141.7,835.5 L1144.6,835.1 L1147.5,834.5 L1150.4,833.9 L1153.3,833.1 L1156.2,832.2 L1159.1,831.2 L1162.0,830.0 L1164.9,828.7 L1167.8,827.3 L1170.7,825.7 L1173.6,824.0 L1176.5,822.2 L1179.4,820.2 L1182.3,818.0 L1185.2,815.7 L1188.1,813.2 L1191.0,810.5 L1193.9,807.7 L1196.8,804.6 L1199.7,801.4 L1202.6,798.0 L1205.5,794.4 L1208.4,790.7 L1211.3,786.7 L1214.2,782.5 L1217.1,778.2 L1220.0,773.7 L1222.9,769.0 L1225.8,764.1 L1228.7,759.1 L1231.7,753.9 L1234.6,748.5 L1237.5,743.0 L1240.4,737.3 L1243.3,731.4 L1246.2,725.4 L1249.1,719.2 L1252.0,712.9 L1254.9,706.4 L1257.8,699.8 L1260.7,693.1 L1263.6,686.2 L1266.5,679.2 L1269.4,672.0 L1272.3,664.7 L1275.2,657.3 L1278.1,649.8 L1281.0,642.1 L1283.9,634.4 L1286.8,626.5 L1289.7,618.4 L1292.6,610.3 L1295.5,602.0 L1298.4,593.6 L1301.3,585.1 L1304.2,576.4 L1307.1,567.6 L1310.0,558.6 L1312.9,549.6 L1315.8,540.3 L1318.7,531.0 L1321.6,521.4 L1324.5,511.8 L1327.4,502.0 L1330.3,492.0 L1333.2,481.9 L1336.1,471.6 L1339.0,461.2 L1341.9,450.6 L1344.8,439.8 L1347.7,428.9 L1350.6,417.7 L1353.5,406.3 L1356.4,394.7 L1359.3,382.8 L1362.2,370.5 L1365.1,358.0 L1368.0,345.1 L1370.9,331.9 L1373.8,318.3 L1376.7,304.3 L1379.6,289.9 L1382.5,275.0 L1385.4,259.7 L1388.3,243.9 L1391.2,227.6 L1394.1,210.8 L1397.0,193.4 L1399.9,175.5 L1402.8,157.0 L1405.7,138.1 L1408.6,118.9 L1411.5,99.5 L1414.4,80.0 L1417.3,60.6 L1420.2,41.3 L1423.1,22.3 L1426.0,3.7 L1428.9,-14.4 L1431.8,-31.8 L1434.7,-48.5" stroke="#333333"/>
</g>
<g fill="none" stroke="#ababab" stroke-width="2.6">
<ellipse cx="410" cy="554.5" rx="97.5" ry="49"/>
<ellipse cx="891" cy="549" rx="170.4" ry="39.2"/>
<ellipse cx="1280.3" cy="541.1" rx="100" ry="39"/>
</g>
<line x1="453.7" y1="600.6" x2="514.9" y2="678.4" stroke="#111" stroke-width="3"/><polygon points="529.7,697.3 506.5,679.9 516.1,680.0 518.3,670.7" fill="#111"/>
<line x1="771.8" y1="576.5" x2="771.8" y2="665.4" stroke="#111" stroke-width="3"/><polygon points="771.8,689.4 764.3,661.4 771.8,667.4 779.3,661.4" fill="#111"/>
<line x1="1367.7" y1="562.4" x2="1367.7" y2="712.4" stroke="#111" stroke-width="3"/><polygon points="1367.7,736.4 1360.2,708.4 1367.7,714.4 1375.2,708.4" fill="#111"/>
<rect x="277.4" y="29.5" width="1180.9" height="947.9" fill="none" stroke="#111" stroke-width="3"/>
<path d="M277.4,977.4 h20 M277.4,891.2 h20 M277.4,805.1 h20 M277.4,718.9 h20 M277.4,632.7 h20 M277.4,546.5 h20 M277.4,460.4 h20 M277.4,374.2 h20 M277.4,288.0 h20 M277.4,201.8 h20 M277.4,115.7 h20 M277.4,29.5 h20 M277.4,977.4 v-20 M474.2,977.4 v-20 M671.0,977.4 v-20 M867.9,977.4 v-20 M1064.7,977.4 v-20 M1261.5,977.4 v-20 M1458.3,977.4 v-20" stroke="#111" stroke-width="3" fill="none"/>
<g font-size="55">
<text x="256" y="993.4" text-anchor="end">−250</text>
<text x="256" y="907.2" text-anchor="end">−200</text>
<text x="256" y="821.1" text-anchor="end">−150</text>
<text x="256" y="734.9" text-anchor="end">−100</text>
<text x="256" y="648.7" text-anchor="end">−50</text>
<text x="256" y="562.5" text-anchor="end">0</text>
<text x="256" y="476.4" text-anchor="end">50</text>
<text x="256" y="390.2" text-anchor="end">100</text>
<text x="256" y="304.0" text-anchor="end">150</text>
<text x="256" y="217.8" text-anchor="end">200</text>
<text x="256" y="131.7" text-anchor="end">250</text>
<text x="256" y="45.5" text-anchor="end">300</text>
<text x="277.4" y="1036" text-anchor="middle">2.5</text>
<text x="474.2" y="1036" text-anchor="middle">3.0</text>
<text x="671.0" y="1036" text-anchor="middle">3.5</text>
<text x="867.9" y="1036" text-anchor="middle">4.0</text>
<text x="1064.7" y="1036" text-anchor="middle">4.5</text>
<text x="1261.5" y="1036" text-anchor="middle">5.0</text>
<text x="1458.3" y="1036" text-anchor="middle">5.5</text>
</g>
<text font-size="55" x="867.8" y="1108" text-anchor="middle" letter-spacing="0.3">Wavelength/μm</text>
<text font-size="55" transform="translate(101.5,503.4) rotate(-90)" x="0" y="0" text-anchor="middle" letter-spacing="0.22">Dispersion/(ps/nm/km)</text>
<text font-size="55" x="288.5" y="87.5" letter-spacing="1.5">(a)</text>
<text font-size="55" x="476" y="118.6" letter-spacing="0.6"><tspan font-style="italic">Λ</tspan>=2.0 μm</text>
<text font-size="55" x="470.8" y="184.1" letter-spacing="0.3"><tspan font-style="italic">d</tspan><tspan font-size="32" dy="10">2</tspan><tspan dy="-10">=1.6 μm</tspan></text>
<text font-size="55" x="465.8" y="751.5">ZDW1</text>
<text font-size="55" x="708" y="745.1" letter-spacing="0.6">ZDW2</text>
<text font-size="55" x="1286" y="785.1" letter-spacing="0.9">ZDW3</text>
<line x1="904" y1="73.5" x2="997.5" y2="73.5" stroke="#333" stroke-width="3"/>
<text font-size="55" x="1003.3" y="87.8" letter-spacing="0.35"><tspan font-style="italic">d</tspan><tspan font-size="32" dy="10">1</tspan><tspan dy="-10">/</tspan><tspan font-style="italic">Λ</tspan>=0.045</text>
<line x1="904" y1="132.5" x2="997.5" y2="132.5" stroke="#c0406a" stroke-width="3"/>
<text font-size="55" x="1003.3" y="146.8" letter-spacing="0.35"><tspan font-style="italic">d</tspan><tspan font-size="32" dy="10">1</tspan><tspan dy="-10">/</tspan><tspan font-style="italic">Λ</tspan>=0.085</text>
<line x1="904" y1="191.5" x2="997.5" y2="191.5" stroke="#555" stroke-width="3"/>
<text font-size="55" x="1003.3" y="205.8" letter-spacing="0.35"><tspan font-style="italic">d</tspan><tspan font-size="32" dy="10">1</tspan><tspan dy="-10">/</tspan><tspan font-style="italic">Λ</tspan>=0.125</text>
<line x1="904" y1="250.5" x2="997.5" y2="250.5" stroke="#666" stroke-width="3"/>
<text font-size="55" x="1003.3" y="264.8" letter-spacing="0.35"><tspan font-style="italic">d</tspan><tspan font-size="32" dy="10">1</tspan><tspan dy="-10">/</tspan><tspan font-style="italic">Λ</tspan>=0.165</text>
<line x1="904" y1="309.5" x2="997.5" y2="309.5" stroke="#666" stroke-width="3"/>
<text font-size="55" x="1003.3" y="323.8" letter-spacing="0.35"><tspan font-style="italic">d</tspan><tspan font-size="32" dy="10">1</tspan><tspan dy="-10">/</tspan><tspan font-style="italic">Λ</tspan>=0.205</text>
<line x1="904" y1="368.5" x2="997.5" y2="368.5" stroke="#777" stroke-width="3"/>
<text font-size="55" x="1003.3" y="382.8" letter-spacing="0.35"><tspan font-style="italic">d</tspan><tspan font-size="32" dy="10">1</tspan><tspan dy="-10">/</tspan><tspan font-style="italic">Λ</tspan>=0.245</text>
<g clip-path="url(#cb)" fill="none" stroke-width="3" stroke-linejoin="round">
<path d="M1749.8,333.3 L1753.7,336.2 L1757.7,339.1 L1761.6,341.9 L1765.6,344.8 L1769.5,347.6 L1773.5,350.5 L1777.4,353.3 L1781.4,356.2 L1785.3,359.0 L1789.3,361.8 L1793.2,364.6 L1797.2,367.4 L1801.1,370.2 L1805.1,373.0 L1809.0,375.8 L1813.0,378.5 L1816.9,381.3 L1820.9,384.0 L1824.8,386.7 L1828.8,389.5 L1832.7,392.2 L1836.7,394.9 L1840.6,397.6 L1844.6,400.2 L1848.5,402.9 L1852.5,405.5 L1856.4,408.2 L1860.4,410.8 L1864.3,413.4 L1868.3,416.0 L1872.2,418.6 L1876.2,421.1 L1880.1,423.7 L1884.1,426.2 L1888.0,428.7 L1892.0,431.2 L1895.9,433.7 L1899.9,436.2 L1903.8,438.6 L1907.8,441.1 L1911.7,443.5 L1915.7,445.9 L1919.6,448.2 L1923.6,450.6 L1927.5,452.9 L1931.5,455.2 L1935.4,457.5 L1939.4,459.8 L1943.3,462.0 L1947.3,464.3 L1951.2,466.5 L1955.2,468.7 L1959.1,470.8 L1963.1,473.0 L1967.0,475.1 L1971.0,477.2 L1974.9,479.3 L1978.9,481.4 L1982.8,483.4 L1986.8,485.4 L1990.7,487.5 L1994.7,489.4 L1998.6,491.4 L2002.6,493.4 L2006.5,495.3 L2010.5,497.3 L2014.4,499.2 L2018.4,501.1 L2022.3,503.0 L2026.3,504.8 L2030.2,506.7 L2034.2,508.5 L2038.1,510.4 L2042.1,512.2 L2046.0,514.0 L2050.0,515.8 L2053.9,517.5 L2057.9,519.3 L2061.8,521.1 L2065.8,522.8 L2069.7,524.5 L2073.7,526.3 L2077.6,528.0 L2081.6,529.7 L2085.5,531.4 L2089.5,533.1 L2093.4,534.8 L2097.4,536.4 L2101.3,538.1 L2105.3,539.8 L2109.2,541.4 L2113.2,543.1 L2117.1,544.7 L2121.1,546.3 L2125.0,548.0 L2129.0,549.6 L2132.9,551.2 L2136.9,552.8 L2140.8,554.5 L2144.7,556.1 L2148.7,557.7 L2152.6,559.3 L2156.6,560.9 L2160.5,562.5 L2164.5,564.1 L2168.4,565.7 L2172.4,567.3 L2176.3,568.8 L2180.3,570.4 L2184.2,572.0 L2188.2,573.6 L2192.1,575.1 L2196.1,576.7 L2200.0,578.3 L2204.0,579.8 L2207.9,581.4 L2211.9,582.9 L2215.8,584.5 L2219.8,586.0 L2223.7,587.5 L2227.7,589.1 L2231.6,590.6 L2235.6,592.1 L2239.5,593.6 L2243.5,595.1 L2247.4,596.6 L2251.4,598.1 L2255.3,599.6 L2259.3,601.1 L2263.2,602.6 L2267.2,604.0 L2271.1,605.5 L2275.1,607.0 L2279.0,608.4 L2283.0,609.9 L2286.9,611.3 L2290.9,612.7 L2294.8,614.2 L2298.8,615.6 L2302.7,617.0 L2306.7,618.4 L2310.6,619.8 L2314.6,621.2 L2318.5,622.5 L2322.5,623.9 L2326.4,625.3 L2330.4,626.6 L2334.3,628.0 L2338.3,629.3 L2342.2,630.7 L2346.2,632.0 L2350.1,633.3 L2354.1,634.6 L2358.0,635.9 L2362.0,637.2 L2365.9,638.5 L2369.9,639.8 L2373.8,641.0 L2377.8,642.3 L2381.7,643.5 L2385.7,644.8 L2389.6,646.0 L2393.6,647.3 L2397.5,648.5 L2401.5,649.7 L2405.4,650.9 L2409.4,652.1 L2413.3,653.3 L2417.3,654.5 L2421.2,655.7 L2425.2,656.8 L2429.1,658.0 L2433.1,659.2 L2437.0,660.3 L2441.0,661.5 L2444.9,662.6 L2448.9,663.7 L2452.8,664.9 L2456.8,666.0 L2460.7,667.1 L2464.7,668.2 L2468.6,669.3 L2472.6,670.4 L2476.5,671.5 L2480.5,672.6 L2484.4,673.6 L2488.4,674.7 L2492.3,675.8 L2496.3,676.8 L2500.2,677.9 L2504.2,679.0 L2508.1,680.0 L2512.1,681.0 L2516.0,682.1 L2520.0,683.1 L2523.9,684.1 L2527.9,685.1 L2531.8,686.1 L2535.8,687.2 L2539.7,688.2 L2543.6,689.2 L2547.6,690.1 L2551.5,691.1 L2555.5,692.1 L2559.4,693.1 L2563.4,694.1 L2567.3,695.0 L2571.3,696.0 L2575.2,697.0 L2579.2,697.9 L2583.1,698.9 L2587.1,699.8 L2591.0,700.8 L2595.0,701.7 L2598.9,702.6 L2602.9,703.6 L2606.8,704.5 L2610.8,705.4 L2614.7,706.3 L2618.7,707.2 L2622.6,708.1 L2626.6,709.0 L2630.5,709.9 L2634.5,710.8 L2638.4,711.7 L2642.4,712.6 L2646.3,713.5 L2650.3,714.4 L2654.2,715.2 L2658.2,716.1 L2662.1,717.0 L2666.1,717.8 L2670.0,718.7 L2674.0,719.5 L2677.9,720.4 L2681.9,721.2 L2685.8,722.1 L2689.8,722.9 L2693.7,723.7 L2697.7,724.6 L2701.6,725.4 L2705.6,726.2 L2709.5,727.0 L2713.5,727.8 L2717.4,728.6 L2721.4,729.5 L2725.3,730.3 L2729.3,731.1 L2733.2,731.8 L2737.2,732.6 L2741.1,733.4 L2745.1,734.2 L2749.0,735.0 L2753.0,735.8 L2756.9,736.5 L2760.9,737.3 L2764.8,738.1 L2768.8,738.9 L2772.7,739.6 L2776.7,740.4 L2780.6,741.2 L2784.6,741.9 L2788.5,742.7 L2792.5,743.4 L2796.4,744.2 L2800.4,745.0 L2804.3,745.7 L2808.3,746.5 L2812.2,747.2 L2816.2,748.0 L2820.1,748.8 L2824.1,749.5 L2828.0,750.3 L2832.0,751.0 L2835.9,751.8 L2839.9,752.6 L2843.8,753.3 L2847.8,754.1 L2851.7,754.9 L2855.7,755.6 L2859.6,756.4 L2863.6,757.2 L2867.5,757.9 L2871.5,758.7 L2875.4,759.5 L2879.4,760.3 L2883.3,761.1 L2887.3,761.9 L2891.2,762.7 L2895.2,763.5 L2899.1,764.3 L2903.1,765.1 L2907.0,765.9 L2911.0,766.7 L2914.9,767.5 L2918.9,768.4 L2922.8,769.2 L2926.8,770.0 L2930.7,770.9" stroke="#95992e"/>
<path d="M1749.8,421.3 L1753.7,424.0 L1757.7,426.7 L1761.6,429.3 L1765.6,431.9 L1769.5,434.5 L1773.5,437.1 L1777.4,439.7 L1781.4,442.2 L1785.3,444.7 L1789.3,447.2 L1793.2,449.7 L1797.2,452.2 L1801.1,454.6 L1805.1,457.1 L1809.0,459.5 L1813.0,461.9 L1816.9,464.2 L1820.9,466.6 L1824.8,468.9 L1828.8,471.3 L1832.7,473.6 L1836.7,475.9 L1840.6,478.2 L1844.6,480.4 L1848.5,482.7 L1852.5,484.9 L1856.4,487.1 L1860.4,489.3 L1864.3,491.5 L1868.3,493.7 L1872.2,495.8 L1876.2,498.0 L1880.1,500.1 L1884.1,502.2 L1888.0,504.4 L1892.0,506.5 L1895.9,508.5 L1899.9,510.6 L1903.8,512.7 L1907.8,514.7 L1911.7,516.8 L1915.7,518.8 L1919.6,520.8 L1923.6,522.8 L1927.5,524.8 L1931.5,526.8 L1935.4,528.8 L1939.4,530.7 L1943.3,532.7 L1947.3,534.6 L1951.2,536.6 L1955.2,538.5 L1959.1,540.4 L1963.1,542.4 L1967.0,544.3 L1971.0,546.2 L1974.9,548.0 L1978.9,549.9 L1982.8,551.8 L1986.8,553.6 L1990.7,555.5 L1994.7,557.3 L1998.6,559.2 L2002.6,561.0 L2006.5,562.8 L2010.5,564.6 L2014.4,566.4 L2018.4,568.2 L2022.3,570.0 L2026.3,571.8 L2030.2,573.5 L2034.2,575.3 L2038.1,577.0 L2042.1,578.7 L2046.0,580.5 L2050.0,582.2 L2053.9,583.9 L2057.9,585.6 L2061.8,587.3 L2065.8,588.9 L2069.7,590.6 L2073.7,592.3 L2077.6,593.9 L2081.6,595.6 L2085.5,597.2 L2089.5,598.8 L2093.4,600.4 L2097.4,602.0 L2101.3,603.6 L2105.3,605.2 L2109.2,606.8 L2113.2,608.3 L2117.1,609.9 L2121.1,611.4 L2125.0,613.0 L2129.0,614.5 L2132.9,616.0 L2136.9,617.5 L2140.8,619.0 L2144.7,620.5 L2148.7,621.9 L2152.6,623.4 L2156.6,624.9 L2160.5,626.3 L2164.5,627.7 L2168.4,629.2 L2172.4,630.6 L2176.3,632.0 L2180.3,633.4 L2184.2,634.8 L2188.2,636.1 L2192.1,637.5 L2196.1,638.9 L2200.0,640.2 L2204.0,641.6 L2207.9,642.9 L2211.9,644.2 L2215.8,645.6 L2219.8,646.9 L2223.7,648.2 L2227.7,649.5 L2231.6,650.8 L2235.6,652.0 L2239.5,653.3 L2243.5,654.6 L2247.4,655.8 L2251.4,657.1 L2255.3,658.3 L2259.3,659.6 L2263.2,660.8 L2267.2,662.0 L2271.1,663.2 L2275.1,664.4 L2279.0,665.6 L2283.0,666.8 L2286.9,668.0 L2290.9,669.2 L2294.8,670.4 L2298.8,671.5 L2302.7,672.7 L2306.7,673.9 L2310.6,675.0 L2314.6,676.2 L2318.5,677.3 L2322.5,678.4 L2326.4,679.6 L2330.4,680.7 L2334.3,681.8 L2338.3,682.9 L2342.2,684.0 L2346.2,685.1 L2350.1,686.2 L2354.1,687.3 L2358.0,688.4 L2362.0,689.5 L2365.9,690.6 L2369.9,691.6 L2373.8,692.7 L2377.8,693.8 L2381.7,694.8 L2385.7,695.9 L2389.6,696.9 L2393.6,698.0 L2397.5,699.0 L2401.5,700.1 L2405.4,701.1 L2409.4,702.1 L2413.3,703.1 L2417.3,704.1 L2421.2,705.2 L2425.2,706.2 L2429.1,707.2 L2433.1,708.2 L2437.0,709.2 L2441.0,710.2 L2444.9,711.2 L2448.9,712.1 L2452.8,713.1 L2456.8,714.1 L2460.7,715.1 L2464.7,716.0 L2468.6,717.0 L2472.6,718.0 L2476.5,718.9 L2480.5,719.9 L2484.4,720.8 L2488.4,721.8 L2492.3,722.7 L2496.3,723.6 L2500.2,724.6 L2504.2,725.5 L2508.1,726.4 L2512.1,727.4 L2516.0,728.3 L2520.0,729.2 L2523.9,730.1 L2527.9,731.0 L2531.8,731.9 L2535.8,732.8 L2539.7,733.7 L2543.6,734.6 L2547.6,735.5 L2551.5,736.4 L2555.5,737.3 L2559.4,738.2 L2563.4,739.1 L2567.3,739.9 L2571.3,740.8 L2575.2,741.7 L2579.2,742.6 L2583.1,743.4 L2587.1,744.3 L2591.0,745.1 L2595.0,746.0 L2598.9,746.8 L2602.9,747.7 L2606.8,748.5 L2610.8,749.4 L2614.7,750.2 L2618.7,751.0 L2622.6,751.8 L2626.6,752.7 L2630.5,753.5 L2634.5,754.3 L2638.4,755.1 L2642.4,755.9 L2646.3,756.7 L2650.3,757.5 L2654.2,758.3 L2658.2,759.1 L2662.1,759.8 L2666.1,760.6 L2670.0,761.4 L2674.0,762.1 L2677.9,762.9 L2681.9,763.7 L2685.8,764.4 L2689.8,765.2 L2693.7,765.9 L2697.7,766.6 L2701.6,767.4 L2705.6,768.1 L2709.5,768.8 L2713.5,769.5 L2717.4,770.2 L2721.4,770.9 L2725.3,771.6 L2729.3,772.3 L2733.2,773.0 L2737.2,773.7 L2741.1,774.4 L2745.1,775.0 L2749.0,775.7 L2753.0,776.4 L2756.9,777.0 L2760.9,777.7 L2764.8,778.3 L2768.8,779.0 L2772.7,779.6 L2776.7,780.3 L2780.6,780.9 L2784.6,781.6 L2788.5,782.2 L2792.5,782.8 L2796.4,783.5 L2800.4,784.1 L2804.3,784.7 L2808.3,785.4 L2812.2,786.0 L2816.2,786.6 L2820.1,787.3 L2824.1,787.9 L2828.0,788.6 L2832.0,789.2 L2835.9,789.8 L2839.9,790.5 L2843.8,791.1 L2847.8,791.8 L2851.7,792.4 L2855.7,793.1 L2859.6,793.8 L2863.6,794.4 L2867.5,795.1 L2871.5,795.8 L2875.4,796.5 L2879.4,797.2 L2883.3,797.9 L2887.3,798.6 L2891.2,799.3 L2895.2,800.0 L2899.1,800.7 L2903.1,801.4 L2907.0,802.2 L2911.0,802.9 L2914.9,803.7 L2918.9,804.4 L2922.8,805.2 L2926.8,806.0 L2930.7,806.8" stroke="#666666"/>
<path d="M1749.8,523.2 L1753.7,525.3 L1757.7,527.5 L1761.6,529.6 L1765.6,531.7 L1769.5,533.9 L1773.5,536.0 L1777.4,538.1 L1781.4,540.2 L1785.3,542.4 L1789.3,544.5 L1793.2,546.6 L1797.2,548.7 L1801.1,550.8 L1805.1,552.9 L1809.0,554.9 L1813.0,557.0 L1816.9,559.1 L1820.9,561.1 L1824.8,563.2 L1828.8,565.2 L1832.7,567.2 L1836.7,569.3 L1840.6,571.3 L1844.6,573.3 L1848.5,575.3 L1852.5,577.3 L1856.4,579.2 L1860.4,581.2 L1864.3,583.1 L1868.3,585.1 L1872.2,587.0 L1876.2,588.9 L1880.1,590.8 L1884.1,592.7 L1888.0,594.6 L1892.0,596.4 L1895.9,598.3 L1899.9,600.1 L1903.8,601.9 L1907.8,603.8 L1911.7,605.5 L1915.7,607.3 L1919.6,609.1 L1923.6,610.8 L1927.5,612.5 L1931.5,614.3 L1935.4,616.0 L1939.4,617.6 L1943.3,619.3 L1947.3,620.9 L1951.2,622.6 L1955.2,624.2 L1959.1,625.7 L1963.1,627.3 L1967.0,628.9 L1971.0,630.4 L1974.9,631.9 L1978.9,633.4 L1982.8,634.9 L1986.8,636.4 L1990.7,637.9 L1994.7,639.3 L1998.6,640.7 L2002.6,642.2 L2006.5,643.6 L2010.5,645.0 L2014.4,646.3 L2018.4,647.7 L2022.3,649.1 L2026.3,650.4 L2030.2,651.7 L2034.2,653.1 L2038.1,654.4 L2042.1,655.7 L2046.0,657.0 L2050.0,658.2 L2053.9,659.5 L2057.9,660.8 L2061.8,662.0 L2065.8,663.3 L2069.7,664.5 L2073.7,665.7 L2077.6,667.0 L2081.6,668.2 L2085.5,669.4 L2089.5,670.6 L2093.4,671.8 L2097.4,673.0 L2101.3,674.2 L2105.3,675.3 L2109.2,676.5 L2113.2,677.7 L2117.1,678.8 L2121.1,680.0 L2125.0,681.2 L2129.0,682.3 L2132.9,683.5 L2136.9,684.6 L2140.8,685.8 L2144.7,686.9 L2148.7,688.1 L2152.6,689.2 L2156.6,690.4 L2160.5,691.5 L2164.5,692.7 L2168.4,693.8 L2172.4,694.9 L2176.3,696.1 L2180.3,697.2 L2184.2,698.3 L2188.2,699.5 L2192.1,700.6 L2196.1,701.7 L2200.0,702.8 L2204.0,704.0 L2207.9,705.1 L2211.9,706.2 L2215.8,707.3 L2219.8,708.4 L2223.7,709.5 L2227.7,710.6 L2231.6,711.7 L2235.6,712.8 L2239.5,713.9 L2243.5,715.0 L2247.4,716.1 L2251.4,717.2 L2255.3,718.2 L2259.3,719.3 L2263.2,720.4 L2267.2,721.5 L2271.1,722.5 L2275.1,723.6 L2279.0,724.6 L2283.0,725.7 L2286.9,726.7 L2290.9,727.8 L2294.8,728.8 L2298.8,729.9 L2302.7,730.9 L2306.7,731.9 L2310.6,732.9 L2314.6,733.9 L2318.5,735.0 L2322.5,736.0 L2326.4,737.0 L2330.4,738.0 L2334.3,739.0 L2338.3,739.9 L2342.2,740.9 L2346.2,741.9 L2350.1,742.9 L2354.1,743.8 L2358.0,744.8 L2362.0,745.7 L2365.9,746.7 L2369.9,747.6 L2373.8,748.6 L2377.8,749.5 L2381.7,750.4 L2385.7,751.4 L2389.6,752.3 L2393.6,753.2 L2397.5,754.1 L2401.5,755.0 L2405.4,755.9 L2409.4,756.8 L2413.3,757.7 L2417.3,758.6 L2421.2,759.5 L2425.2,760.4 L2429.1,761.2 L2433.1,762.1 L2437.0,763.0 L2441.0,763.8 L2444.9,764.7 L2448.9,765.5 L2452.8,766.4 L2456.8,767.2 L2460.7,768.1 L2464.7,768.9 L2468.6,769.8 L2472.6,770.6 L2476.5,771.4 L2480.5,772.2 L2484.4,773.0 L2488.4,773.9 L2492.3,774.7 L2496.3,775.5 L2500.2,776.3 L2504.2,777.1 L2508.1,777.9 L2512.1,778.7 L2516.0,779.5 L2520.0,780.3 L2523.9,781.0 L2527.9,781.8 L2531.8,782.6 L2535.8,783.4 L2539.7,784.1 L2543.6,784.9 L2547.6,785.7 L2551.5,786.4 L2555.5,787.2 L2559.4,787.9 L2563.4,788.7 L2567.3,789.4 L2571.3,790.2 L2575.2,790.9 L2579.2,791.7 L2583.1,792.4 L2587.1,793.1 L2591.0,793.9 L2595.0,794.6 L2598.9,795.3 L2602.9,796.0 L2606.8,796.8 L2610.8,797.5 L2614.7,798.2 L2618.7,798.9 L2622.6,799.6 L2626.6,800.3 L2630.5,801.0 L2634.5,801.7 L2638.4,802.4 L2642.4,803.1 L2646.3,803.8 L2650.3,804.4 L2654.2,805.1 L2658.2,805.8 L2662.1,806.5 L2666.1,807.1 L2670.0,807.8 L2674.0,808.5 L2677.9,809.1 L2681.9,809.8 L2685.8,810.4 L2689.8,811.1 L2693.7,811.7 L2697.7,812.4 L2701.6,813.0 L2705.6,813.6 L2709.5,814.3 L2713.5,814.9 L2717.4,815.5 L2721.4,816.2 L2725.3,816.8 L2729.3,817.4 L2733.2,818.0 L2737.2,818.6 L2741.1,819.2 L2745.1,819.8 L2749.0,820.4 L2753.0,821.0 L2756.9,821.6 L2760.9,822.2 L2764.8,822.8 L2768.8,823.4 L2772.7,824.0 L2776.7,824.6 L2780.6,825.1 L2784.6,825.7 L2788.5,826.3 L2792.5,826.9 L2796.4,827.4 L2800.4,828.0 L2804.3,828.6 L2808.3,829.2 L2812.2,829.7 L2816.2,830.3 L2820.1,830.9 L2824.1,831.4 L2828.0,832.0 L2832.0,832.6 L2835.9,833.1 L2839.9,833.7 L2843.8,834.3 L2847.8,834.8 L2851.7,835.4 L2855.7,836.0 L2859.6,836.6 L2863.6,837.1 L2867.5,837.7 L2871.5,838.3 L2875.4,838.8 L2879.4,839.4 L2883.3,840.0 L2887.3,840.6 L2891.2,841.2 L2895.2,841.7 L2899.1,842.3 L2903.1,842.9 L2907.0,843.5 L2911.0,844.1 L2914.9,844.7 L2918.9,845.3 L2922.8,845.9 L2926.8,846.5 L2930.7,847.1" stroke="#6a6e6e"/>
<path d="M1749.8,619.4 L1753.7,620.8 L1757.7,622.2 L1761.6,623.7 L1765.6,625.1 L1769.5,626.6 L1773.5,628.1 L1777.4,629.6 L1781.4,631.1 L1785.3,632.7 L1789.3,634.2 L1793.2,635.8 L1797.2,637.4 L1801.1,639.0 L1805.1,640.6 L1809.0,642.2 L1813.0,643.8 L1816.9,645.5 L1820.9,647.1 L1824.8,648.7 L1828.8,650.4 L1832.7,652.0 L1836.7,653.7 L1840.6,655.4 L1844.6,657.0 L1848.5,658.7 L1852.5,660.4 L1856.4,662.0 L1860.4,663.7 L1864.3,665.4 L1868.3,667.0 L1872.2,668.7 L1876.2,670.4 L1880.1,672.0 L1884.1,673.7 L1888.0,675.3 L1892.0,677.0 L1895.9,678.6 L1899.9,680.2 L1903.8,681.8 L1907.8,683.4 L1911.7,685.0 L1915.7,686.6 L1919.6,688.2 L1923.6,689.7 L1927.5,691.3 L1931.5,692.8 L1935.4,694.3 L1939.4,695.8 L1943.3,697.3 L1947.3,698.8 L1951.2,700.2 L1955.2,701.7 L1959.1,703.1 L1963.1,704.5 L1967.0,705.8 L1971.0,707.2 L1974.9,708.6 L1978.9,709.9 L1982.8,711.2 L1986.8,712.5 L1990.7,713.8 L1994.7,715.1 L1998.6,716.3 L2002.6,717.6 L2006.5,718.8 L2010.5,720.0 L2014.4,721.3 L2018.4,722.5 L2022.3,723.6 L2026.3,724.8 L2030.2,726.0 L2034.2,727.1 L2038.1,728.3 L2042.1,729.4 L2046.0,730.6 L2050.0,731.7 L2053.9,732.8 L2057.9,733.9 L2061.8,735.0 L2065.8,736.0 L2069.7,737.1 L2073.7,738.2 L2077.6,739.3 L2081.6,740.3 L2085.5,741.4 L2089.5,742.4 L2093.4,743.5 L2097.4,744.5 L2101.3,745.5 L2105.3,746.5 L2109.2,747.6 L2113.2,748.6 L2117.1,749.6 L2121.1,750.6 L2125.0,751.6 L2129.0,752.6 L2132.9,753.6 L2136.9,754.6 L2140.8,755.6 L2144.7,756.7 L2148.7,757.7 L2152.6,758.7 L2156.6,759.7 L2160.5,760.7 L2164.5,761.7 L2168.4,762.7 L2172.4,763.7 L2176.3,764.7 L2180.3,765.6 L2184.2,766.6 L2188.2,767.6 L2192.1,768.6 L2196.1,769.6 L2200.0,770.6 L2204.0,771.6 L2207.9,772.5 L2211.9,773.5 L2215.8,774.5 L2219.8,775.5 L2223.7,776.4 L2227.7,777.4 L2231.6,778.4 L2235.6,779.3 L2239.5,780.3 L2243.5,781.2 L2247.4,782.2 L2251.4,783.1 L2255.3,784.0 L2259.3,785.0 L2263.2,785.9 L2267.2,786.8 L2271.1,787.7 L2275.1,788.7 L2279.0,789.6 L2283.0,790.5 L2286.9,791.4 L2290.9,792.3 L2294.8,793.1 L2298.8,794.0 L2302.7,794.9 L2306.7,795.8 L2310.6,796.6 L2314.6,797.5 L2318.5,798.3 L2322.5,799.2 L2326.4,800.0 L2330.4,800.8 L2334.3,801.7 L2338.3,802.5 L2342.2,803.3 L2346.2,804.1 L2350.1,804.9 L2354.1,805.7 L2358.0,806.5 L2362.0,807.2 L2365.9,808.0 L2369.9,808.7 L2373.8,809.5 L2377.8,810.2 L2381.7,811.0 L2385.7,811.7 L2389.6,812.4 L2393.6,813.2 L2397.5,813.9 L2401.5,814.6 L2405.4,815.3 L2409.4,816.0 L2413.3,816.7 L2417.3,817.4 L2421.2,818.1 L2425.2,818.7 L2429.1,819.4 L2433.1,820.1 L2437.0,820.8 L2441.0,821.4 L2444.9,822.1 L2448.9,822.7 L2452.8,823.4 L2456.8,824.0 L2460.7,824.6 L2464.7,825.3 L2468.6,825.9 L2472.6,826.5 L2476.5,827.2 L2480.5,827.8 L2484.4,828.4 L2488.4,829.0 L2492.3,829.6 L2496.3,830.2 L2500.2,830.8 L2504.2,831.4 L2508.1,832.0 L2512.1,832.6 L2516.0,833.2 L2520.0,833.8 L2523.9,834.4 L2527.9,835.0 L2531.8,835.6 L2535.8,836.2 L2539.7,836.8 L2543.6,837.3 L2547.6,837.9 L2551.5,838.5 L2555.5,839.1 L2559.4,839.7 L2563.4,840.2 L2567.3,840.8 L2571.3,841.4 L2575.2,841.9 L2579.2,842.5 L2583.1,843.1 L2587.1,843.6 L2591.0,844.2 L2595.0,844.8 L2598.9,845.3 L2602.9,845.9 L2606.8,846.4 L2610.8,847.0 L2614.7,847.5 L2618.7,848.1 L2622.6,848.6 L2626.6,849.2 L2630.5,849.7 L2634.5,850.2 L2638.4,850.8 L2642.4,851.3 L2646.3,851.9 L2650.3,852.4 L2654.2,852.9 L2658.2,853.4 L2662.1,854.0 L2666.1,854.5 L2670.0,855.0 L2674.0,855.5 L2677.9,856.0 L2681.9,856.6 L2685.8,857.1 L2689.8,857.6 L2693.7,858.1 L2697.7,858.6 L2701.6,859.1 L2705.6,859.6 L2709.5,860.1 L2713.5,860.6 L2717.4,861.1 L2721.4,861.6 L2725.3,862.1 L2729.3,862.5 L2733.2,863.0 L2737.2,863.5 L2741.1,864.0 L2745.1,864.5 L2749.0,864.9 L2753.0,865.4 L2756.9,865.9 L2760.9,866.3 L2764.8,866.8 L2768.8,867.3 L2772.7,867.7 L2776.7,868.2 L2780.6,868.6 L2784.6,869.1 L2788.5,869.6 L2792.5,870.0 L2796.4,870.5 L2800.4,870.9 L2804.3,871.4 L2808.3,871.8 L2812.2,872.2 L2816.2,872.7 L2820.1,873.1 L2824.1,873.6 L2828.0,874.0 L2832.0,874.5 L2835.9,874.9 L2839.9,875.3 L2843.8,875.8 L2847.8,876.2 L2851.7,876.6 L2855.7,877.1 L2859.6,877.5 L2863.6,877.9 L2867.5,878.4 L2871.5,878.8 L2875.4,879.2 L2879.4,879.7 L2883.3,880.1 L2887.3,880.5 L2891.2,881.0 L2895.2,881.4 L2899.1,881.8 L2903.1,882.3 L2907.0,882.7 L2911.0,883.1 L2914.9,883.6 L2918.9,884.0 L2922.8,884.4 L2926.8,884.9 L2930.7,885.3" stroke="#555555"/>
<path d="M1749.8,714.9 L1753.7,716.3 L1757.7,717.6 L1761.6,718.9 L1765.6,720.2 L1769.5,721.6 L1773.5,722.9 L1777.4,724.2 L1781.4,725.5 L1785.3,726.9 L1789.3,728.2 L1793.2,729.5 L1797.2,730.8 L1801.1,732.1 L1805.1,733.4 L1809.0,734.7 L1813.0,736.0 L1816.9,737.3 L1820.9,738.6 L1824.8,739.8 L1828.8,741.1 L1832.7,742.4 L1836.7,743.7 L1840.6,744.9 L1844.6,746.2 L1848.5,747.4 L1852.5,748.7 L1856.4,749.9 L1860.4,751.2 L1864.3,752.4 L1868.3,753.6 L1872.2,754.9 L1876.2,756.1 L1880.1,757.3 L1884.1,758.5 L1888.0,759.7 L1892.0,760.9 L1895.9,762.1 L1899.9,763.3 L1903.8,764.4 L1907.8,765.6 L1911.7,766.8 L1915.7,767.9 L1919.6,769.0 L1923.6,770.2 L1927.5,771.3 L1931.5,772.4 L1935.4,773.6 L1939.4,774.7 L1943.3,775.8 L1947.3,776.8 L1951.2,777.9 L1955.2,779.0 L1959.1,780.1 L1963.1,781.1 L1967.0,782.2 L1971.0,783.2 L1974.9,784.2 L1978.9,785.3 L1982.8,786.3 L1986.8,787.3 L1990.7,788.3 L1994.7,789.3 L1998.6,790.3 L2002.6,791.3 L2006.5,792.2 L2010.5,793.2 L2014.4,794.2 L2018.4,795.1 L2022.3,796.1 L2026.3,797.0 L2030.2,797.9 L2034.2,798.8 L2038.1,799.8 L2042.1,800.7 L2046.0,801.6 L2050.0,802.5 L2053.9,803.4 L2057.9,804.3 L2061.8,805.2 L2065.8,806.0 L2069.7,806.9 L2073.7,807.8 L2077.6,808.7 L2081.6,809.5 L2085.5,810.4 L2089.5,811.2 L2093.4,812.1 L2097.4,812.9 L2101.3,813.7 L2105.3,814.6 L2109.2,815.4 L2113.2,816.2 L2117.1,817.0 L2121.1,817.8 L2125.0,818.6 L2129.0,819.4 L2132.9,820.2 L2136.9,821.0 L2140.8,821.8 L2144.7,822.6 L2148.7,823.4 L2152.6,824.2 L2156.6,825.0 L2160.5,825.7 L2164.5,826.5 L2168.4,827.3 L2172.4,828.0 L2176.3,828.8 L2180.3,829.6 L2184.2,830.3 L2188.2,831.1 L2192.1,831.8 L2196.1,832.6 L2200.0,833.3 L2204.0,834.0 L2207.9,834.8 L2211.9,835.5 L2215.8,836.2 L2219.8,836.9 L2223.7,837.6 L2227.7,838.3 L2231.6,839.0 L2235.6,839.7 L2239.5,840.4 L2243.5,841.1 L2247.4,841.8 L2251.4,842.5 L2255.3,843.2 L2259.3,843.9 L2263.2,844.5 L2267.2,845.2 L2271.1,845.9 L2275.1,846.5 L2279.0,847.2 L2283.0,847.8 L2286.9,848.5 L2290.9,849.1 L2294.8,849.7 L2298.8,850.4 L2302.7,851.0 L2306.7,851.6 L2310.6,852.2 L2314.6,852.8 L2318.5,853.4 L2322.5,854.0 L2326.4,854.6 L2330.4,855.2 L2334.3,855.8 L2338.3,856.4 L2342.2,857.0 L2346.2,857.6 L2350.1,858.1 L2354.1,858.7 L2358.0,859.2 L2362.0,859.8 L2365.9,860.3 L2369.9,860.9 L2373.8,861.4 L2377.8,862.0 L2381.7,862.5 L2385.7,863.0 L2389.6,863.6 L2393.6,864.1 L2397.5,864.6 L2401.5,865.1 L2405.4,865.6 L2409.4,866.1 L2413.3,866.6 L2417.3,867.1 L2421.2,867.6 L2425.2,868.1 L2429.1,868.6 L2433.1,869.1 L2437.0,869.6 L2441.0,870.1 L2444.9,870.5 L2448.9,871.0 L2452.8,871.5 L2456.8,872.0 L2460.7,872.4 L2464.7,872.9 L2468.6,873.4 L2472.6,873.8 L2476.5,874.3 L2480.5,874.7 L2484.4,875.2 L2488.4,875.7 L2492.3,876.1 L2496.3,876.6 L2500.2,877.0 L2504.2,877.5 L2508.1,877.9 L2512.1,878.4 L2516.0,878.8 L2520.0,879.2 L2523.9,879.7 L2527.9,880.1 L2531.8,880.6 L2535.8,881.0 L2539.7,881.5 L2543.6,881.9 L2547.6,882.3 L2551.5,882.8 L2555.5,883.2 L2559.4,883.7 L2563.4,884.1 L2567.3,884.5 L2571.3,885.0 L2575.2,885.4 L2579.2,885.8 L2583.1,886.3 L2587.1,886.7 L2591.0,887.1 L2595.0,887.5 L2598.9,888.0 L2602.9,888.4 L2606.8,888.8 L2610.8,889.2 L2614.7,889.6 L2618.7,890.0 L2622.6,890.4 L2626.6,890.8 L2630.5,891.2 L2634.5,891.6 L2638.4,892.0 L2642.4,892.4 L2646.3,892.8 L2650.3,893.2 L2654.2,893.6 L2658.2,893.9 L2662.1,894.3 L2666.1,894.7 L2670.0,895.0 L2674.0,895.4 L2677.9,895.8 L2681.9,896.1 L2685.8,896.5 L2689.8,896.8 L2693.7,897.1 L2697.7,897.5 L2701.6,897.8 L2705.6,898.1 L2709.5,898.4 L2713.5,898.8 L2717.4,899.1 L2721.4,899.4 L2725.3,899.7 L2729.3,899.9 L2733.2,900.2 L2737.2,900.5 L2741.1,900.8 L2745.1,901.0 L2749.0,901.3 L2753.0,901.6 L2756.9,901.8 L2760.9,902.1 L2764.8,902.3 L2768.8,902.5 L2772.7,902.8 L2776.7,903.0 L2780.6,903.2 L2784.6,903.5 L2788.5,903.7 L2792.5,903.9 L2796.4,904.2 L2800.4,904.4 L2804.3,904.6 L2808.3,904.8 L2812.2,905.1 L2816.2,905.3 L2820.1,905.5 L2824.1,905.8 L2828.0,906.0 L2832.0,906.2 L2835.9,906.5 L2839.9,906.7 L2843.8,906.9 L2847.8,907.2 L2851.7,907.4 L2855.7,907.7 L2859.6,907.9 L2863.6,908.2 L2867.5,908.5 L2871.5,908.8 L2875.4,909.0 L2879.4,909.3 L2883.3,909.6 L2887.3,909.9 L2891.2,910.2 L2895.2,910.5 L2899.1,910.9 L2903.1,911.2 L2907.0,911.5 L2911.0,911.9 L2914.9,912.2 L2918.9,912.6 L2922.8,913.0 L2926.8,913.4 L2930.7,913.8" stroke="#c8285e"/>
<path d="M1749.8,809.5 L1753.6,810.6 L1757.4,811.7 L1761.3,812.7 L1765.1,813.7 L1768.9,814.8 L1772.7,815.8 L1776.5,816.8 L1780.4,817.7 L1784.2,818.7 L1788.0,819.7 L1791.8,820.6 L1795.6,821.5 L1799.5,822.5 L1803.3,823.4 L1807.1,824.3 L1810.9,825.1 L1814.7,826.0 L1818.6,826.9 L1822.4,827.7 L1826.2,828.6 L1830.0,829.4 L1833.9,830.2 L1837.7,831.1 L1841.5,831.9 L1845.3,832.7 L1849.1,833.5 L1853.0,834.2 L1856.8,835.0 L1860.6,835.8 L1864.4,836.5 L1868.2,837.3 L1872.1,838.0 L1875.9,838.7 L1879.7,839.5 L1883.5,840.2 L1887.3,840.9 L1891.2,841.6 L1895.0,842.3 L1898.8,843.0 L1902.6,843.7 L1906.4,844.4 L1910.3,845.0 L1914.1,845.7 L1917.9,846.4 L1921.7,847.0 L1925.5,847.7 L1929.4,848.4 L1933.2,849.0 L1937.0,849.6 L1940.8,850.3 L1944.6,850.9 L1948.5,851.6 L1952.3,852.2 L1956.1,852.8 L1959.9,853.4 L1963.7,854.1 L1967.6,854.7 L1971.4,855.3 L1975.2,855.9 L1979.0,856.5 L1982.8,857.1 L1986.7,857.7 L1990.5,858.3 L1994.3,858.9 L1998.1,859.5 L2002.0,860.1 L2005.8,860.7 L2009.6,861.3 L2013.4,861.9 L2017.2,862.4 L2021.1,863.0 L2024.9,863.6 L2028.7,864.2 L2032.5,864.7 L2036.3,865.3 L2040.2,865.8 L2044.0,866.4 L2047.8,867.0 L2051.6,867.5 L2055.4,868.1 L2059.3,868.6 L2063.1,869.2 L2066.9,869.7 L2070.7,870.2 L2074.5,870.8 L2078.4,871.3 L2082.2,871.8 L2086.0,872.4 L2089.8,872.9 L2093.6,873.4 L2097.5,873.9 L2101.3,874.5 L2105.1,875.0 L2108.9,875.5 L2112.7,876.0 L2116.6,876.5 L2120.4,877.0 L2124.2,877.5 L2128.0,878.0 L2131.8,878.5 L2135.7,879.0 L2139.5,879.5 L2143.3,880.0 L2147.1,880.5 L2151.0,881.0 L2154.8,881.4 L2158.6,881.9 L2162.4,882.4 L2166.2,882.9 L2170.1,883.4 L2173.9,883.8 L2177.7,884.3 L2181.5,884.8 L2185.3,885.2 L2189.2,885.7 L2193.0,886.1 L2196.8,886.6 L2200.6,887.0 L2204.4,887.5 L2208.3,887.9 L2212.1,888.4 L2215.9,888.8 L2219.7,889.3 L2223.5,889.7 L2227.4,890.1 L2231.2,890.6 L2235.0,891.0 L2238.8,891.4 L2242.6,891.8 L2246.5,892.3 L2250.3,892.7 L2254.1,893.1 L2257.9,893.5 L2261.7,893.9 L2265.6,894.3 L2269.4,894.7 L2273.2,895.1 L2277.0,895.5 L2280.8,895.9 L2284.7,896.3 L2288.5,896.7 L2292.3,897.0 L2296.1,897.4 L2299.9,897.8 L2303.8,898.2 L2307.6,898.5 L2311.4,898.9 L2315.2,899.3 L2319.1,899.6 L2322.9,900.0 L2326.7,900.3 L2330.5,900.7 L2334.3,901.0 L2338.2,901.4 L2342.0,901.7 L2345.8,902.0 L2349.6,902.4 L2353.4,902.7 L2357.3,903.0 L2361.1,903.3 L2364.9,903.6 L2368.7,904.0 L2372.5,904.3 L2376.4,904.6 L2380.2,904.9 L2384.0,905.2 L2387.8,905.5 L2391.6,905.8 L2395.5,906.1 L2399.3,906.4 L2403.1,906.7 L2406.9,906.9 L2410.7,907.2 L2414.6,907.5 L2418.4,907.8 L2422.2,908.1 L2426.0,908.3 L2429.8,908.6 L2433.7,908.9 L2437.5,909.2 L2441.3,909.4 L2445.1,909.7 L2448.9,910.0 L2452.8,910.2 L2456.6,910.5 L2460.4,910.7 L2464.2,911.0 L2468.1,911.3 L2471.9,911.5 L2475.7,911.8 L2479.5,912.0 L2483.3,912.3 L2487.2,912.5 L2491.0,912.8 L2494.8,913.0 L2498.6,913.3 L2502.4,913.5 L2506.3,913.8 L2510.1,914.0 L2513.9,914.2 L2517.7,914.5 L2521.5,914.7 L2525.4,915.0 L2529.2,915.2 L2533.0,915.5 L2536.8,915.7 L2540.6,916.0 L2544.5,916.2 L2548.3,916.4 L2552.1,916.7 L2555.9,916.9 L2559.7,917.2 L2563.6,917.4 L2567.4,917.6 L2571.2,917.9 L2575.0,918.1 L2578.8,918.4 L2582.7,918.6 L2586.5,918.8 L2590.3,919.1 L2594.1,919.3 L2597.9,919.5 L2601.8,919.8 L2605.6,920.0 L2609.4,920.2 L2613.2,920.5 L2617.0,920.7 L2620.9,920.9 L2624.7,921.1 L2628.5,921.4 L2632.3,921.6 L2636.2,921.8 L2640.0,922.0 L2643.8,922.2 L2647.6,922.4 L2651.4,922.7 L2655.3,922.9 L2659.1,923.1 L2662.9,923.3 L2666.7,923.5 L2670.5,923.7 L2674.4,923.9 L2678.2,924.1 L2682.0,924.3 L2685.8,924.5 L2689.6,924.6 L2693.5,924.8 L2697.3,925.0 L2701.1,925.2 L2704.9,925.4 L2708.7,925.6 L2712.6,925.7 L2716.4,925.9 L2720.2,926.1 L2724.0,926.2 L2727.8,926.4 L2731.7,926.5 L2735.5,926.7 L2739.3,926.8 L2743.1,927.0 L2746.9,927.1 L2750.8,927.3 L2754.6,927.4 L2758.4,927.5 L2762.2,927.7 L2766.0,927.8 L2769.9,928.0 L2773.7,928.1 L2777.5,928.2 L2781.3,928.4 L2785.2,928.5 L2789.0,928.6 L2792.8,928.8 L2796.6,928.9 L2800.4,929.1 L2804.3,929.2 L2808.1,929.3 L2811.9,929.5 L2815.7,929.6 L2819.5,929.8 L2823.4,930.0 L2827.2,930.1 L2831.0,930.3 L2834.8,930.5 L2838.6,930.6 L2842.5,930.8 L2846.3,931.0 L2850.1,931.2 L2853.9,931.4 L2857.7,931.6 L2861.6,931.8 L2865.4,932.1 L2869.2,932.3 L2873.0,932.5 L2876.8,932.8 L2880.7,933.0 L2884.5,933.3 L2888.3,933.6 L2892.1,933.9" stroke="#3a3a3a"/>
<path d="M1749.8,598.8 L1755.7,597.3 L1761.7,595.9 L1767.6,594.4 L1773.5,593.0 L1779.5,591.5 L1785.4,590.1 L1791.3,588.6 L1797.3,587.1 L1803.2,585.6 L1809.1,584.2 L1815.1,582.7 L1821.0,581.2 L1826.9,579.7 L1832.9,578.2 L1838.8,576.7 L1844.7,575.2 L1850.7,573.7 L1856.6,572.2 L1862.5,570.7 L1868.5,569.2 L1874.4,567.7 L1880.4,566.2 L1886.3,564.6 L1892.2,563.1 L1898.2,561.6 L1904.1,560.1 L1910.0,558.5 L1916.0,557.0 L1921.9,555.4 L1927.8,553.9 L1933.8,552.3 L1939.7,550.8 L1945.6,549.2 L1951.6,547.7 L1957.5,546.1 L1963.4,544.5 L1969.4,543.0 L1975.3,541.4 L1981.2,539.8 L1987.2,538.2 L1993.1,536.7 L1999.0,535.1 L2005.0,533.5 L2010.9,531.9 L2016.8,530.3 L2022.8,528.7 L2028.7,527.1 L2034.6,525.5 L2040.6,523.9 L2046.5,522.3 L2052.4,520.6 L2058.4,519.0 L2064.3,517.4 L2070.2,515.8 L2076.2,514.1 L2082.1,512.5 L2088.0,510.9 L2094.0,509.2 L2099.9,507.6 L2105.9,505.9 L2111.8,504.3 L2117.7,502.6 L2123.7,501.0 L2129.6,499.3 L2135.5,497.7 L2141.5,496.0 L2147.4,494.3 L2153.3,492.6 L2159.3,491.0 L2165.2,489.3 L2171.1,487.6 L2177.1,485.9 L2183.0,484.2 L2188.9,482.5 L2194.9,480.8 L2200.8,479.1 L2206.7,477.4 L2212.7,475.7 L2218.6,474.0 L2224.5,472.3 L2230.5,470.6 L2236.4,468.9 L2242.3,467.1 L2248.3,465.4 L2254.2,463.7 L2260.1,461.9 L2266.1,460.2 L2272.0,458.4 L2277.9,456.7 L2283.9,455.0 L2289.8,453.2 L2295.7,451.4 L2301.7,449.7 L2307.6,447.9 L2313.5,446.2 L2319.5,444.4 L2325.4,442.6 L2331.3,440.8 L2337.3,439.1 L2343.2,437.3 L2349.2,435.5 L2355.1,433.7 L2361.0,431.9 L2367.0,430.1 L2372.9,428.3 L2378.8,426.5 L2384.8,424.7 L2390.7,422.9 L2396.6,421.1 L2402.6,419.3 L2408.5,417.4 L2414.4,415.6 L2420.4,413.8 L2426.3,412.0 L2432.2,410.1 L2438.2,408.3 L2444.1,406.4 L2450.0,404.6 L2456.0,402.8 L2461.9,400.9 L2467.8,399.0 L2473.8,397.2 L2479.7,395.3 L2485.6,393.5 L2491.6,391.6 L2497.5,389.7 L2503.4,387.9 L2509.4,386.0 L2515.3,384.1 L2521.2,382.2 L2527.2,380.3 L2533.1,378.4 L2539.0,376.5 L2545.0,374.6 L2550.9,372.7 L2556.8,370.8 L2562.8,368.9 L2568.7,367.0 L2574.6,365.1 L2580.6,363.2 L2586.5,361.2 L2592.5,359.3 L2598.4,357.4 L2604.3,355.5 L2610.3,353.5 L2616.2,351.6 L2622.1,349.6 L2628.1,347.7 L2634.0,345.7 L2639.9,343.8 L2645.9,341.8 L2651.8,339.9 L2657.7,337.9 L2663.7,335.9 L2669.6,334.0 L2675.5,332.0 L2681.5,330.0 L2687.4,328.0 L2693.3,326.0 L2699.3,324.1 L2705.2,322.1 L2711.1,320.1 L2717.1,318.1 L2723.0,316.1 L2728.9,314.1 L2734.9,312.1 L2740.8,310.0 L2746.7,308.0 L2752.7,306.0 L2758.6,304.0 L2764.5,302.0 L2770.5,299.9 L2776.4,297.9 L2782.3,295.9 L2788.3,293.8 L2794.2,291.8 L2800.1,289.7 L2806.1,287.7 L2812.0,285.6 L2818.0,283.6 L2823.9,281.5 L2829.8,279.5 L2835.8,277.4 L2841.7,275.3 L2847.6,273.3 L2853.6,271.2 L2859.5,269.1 L2865.4,267.0 L2871.4,264.9 L2877.3,262.8 L2883.2,260.7 L2889.2,258.6 L2895.1,256.5 L2901.0,254.4 L2907.0,252.3 L2912.9,250.2 L2918.8,248.1 L2924.8,246.0 L2930.7,243.9" stroke="#111111" stroke-dasharray="22 12.5 3 14" stroke-dashoffset="36"/>
<path d="M1749.8,757.1 L1755.7,756.3 L1761.7,755.6 L1767.6,754.8 L1773.5,754.0 L1779.5,753.2 L1785.4,752.4 L1791.3,751.6 L1797.3,750.7 L1803.2,749.9 L1809.1,749.1 L1815.1,748.3 L1821.0,747.4 L1826.9,746.6 L1832.9,745.7 L1838.8,744.9 L1844.7,744.0 L1850.7,743.2 L1856.6,742.3 L1862.5,741.4 L1868.5,740.6 L1874.4,739.7 L1880.4,738.8 L1886.3,737.9 L1892.2,737.0 L1898.2,736.1 L1904.1,735.2 L1910.0,734.3 L1916.0,733.4 L1921.9,732.5 L1927.8,731.5 L1933.8,730.6 L1939.7,729.7 L1945.6,728.7 L1951.6,727.8 L1957.5,726.8 L1963.4,725.9 L1969.4,724.9 L1975.3,723.9 L1981.2,723.0 L1987.2,722.0 L1993.1,721.0 L1999.0,720.0 L2005.0,719.0 L2010.9,718.0 L2016.8,717.0 L2022.8,716.0 L2028.7,715.0 L2034.6,714.0 L2040.6,713.0 L2046.5,712.0 L2052.4,710.9 L2058.4,709.9 L2064.3,708.9 L2070.2,707.8 L2076.2,706.8 L2082.1,705.7 L2088.0,704.7 L2094.0,703.6 L2099.9,702.5 L2105.9,701.5 L2111.8,700.4 L2117.7,699.3 L2123.7,698.2 L2129.6,697.1 L2135.5,696.0 L2141.5,694.9 L2147.4,693.8 L2153.3,692.7 L2159.3,691.6 L2165.2,690.5 L2171.1,689.4 L2177.1,688.2 L2183.0,687.1 L2188.9,686.0 L2194.9,684.8 L2200.8,683.7 L2206.7,682.5 L2212.7,681.4 L2218.6,680.2 L2224.5,679.0 L2230.5,677.9 L2236.4,676.7 L2242.3,675.5 L2248.3,674.3 L2254.2,673.1 L2260.1,671.9 L2266.1,670.7 L2272.0,669.5 L2277.9,668.3 L2283.9,667.1 L2289.8,665.9 L2295.7,664.7 L2301.7,663.5 L2307.6,662.2 L2313.5,661.0 L2319.5,659.8 L2325.4,658.5 L2331.3,657.3 L2337.3,656.0 L2343.2,654.8 L2349.2,653.5 L2355.1,652.2 L2361.0,651.0 L2367.0,649.7 L2372.9,648.4 L2378.8,647.1 L2384.8,645.9 L2390.7,644.6 L2396.6,643.3 L2402.6,642.0 L2408.5,640.7 L2414.4,639.4 L2420.4,638.0 L2426.3,636.7 L2432.2,635.4 L2438.2,634.1 L2444.1,632.7 L2450.0,631.4 L2456.0,630.1 L2461.9,628.7 L2467.8,627.4 L2473.8,626.0 L2479.7,624.7 L2485.6,623.3 L2491.6,621.9 L2497.5,620.6 L2503.4,619.2 L2509.4,617.8 L2515.3,616.4 L2521.2,615.0 L2527.2,613.7 L2533.1,612.3 L2539.0,610.9 L2545.0,609.5 L2550.9,608.1 L2556.8,606.6 L2562.8,605.2 L2568.7,603.8 L2574.6,602.4 L2580.6,601.0 L2586.5,599.5 L2592.5,598.1 L2598.4,596.6 L2604.3,595.2 L2610.3,593.7 L2616.2,592.3 L2622.1,590.8 L2628.1,589.4 L2634.0,587.9 L2639.9,586.4 L2645.9,585.0 L2651.8,583.5 L2657.7,582.0 L2663.7,580.5 L2669.6,579.0 L2675.5,577.5 L2681.5,576.0 L2687.4,574.5 L2693.3,573.0 L2699.3,571.5 L2705.2,570.0 L2711.1,568.5 L2717.1,567.0 L2723.0,565.4 L2728.9,563.9 L2734.9,562.4 L2740.8,560.8 L2746.7,559.3 L2752.7,557.8 L2758.6,556.2 L2764.5,554.6 L2770.5,553.1 L2776.4,551.5 L2782.3,550.0 L2788.3,548.4 L2794.2,546.8 L2800.1,545.2 L2806.1,543.7 L2812.0,542.1 L2818.0,540.5 L2823.9,538.9 L2829.8,537.3 L2835.8,535.7 L2841.7,534.1 L2847.6,532.5 L2853.6,530.9 L2859.5,529.3 L2865.4,527.6 L2871.4,526.0 L2877.3,524.4 L2883.2,522.8 L2889.2,521.1 L2895.1,519.5 L2901.0,517.8 L2907.0,516.2 L2912.9,514.5 L2918.8,512.9 L2924.8,511.2 L2930.7,509.6" stroke="#c8325f" stroke-dasharray="22 12.5 3 14" stroke-dashoffset="23"/>
<path d="M1749.8,830.0 L1755.7,829.6 L1761.7,829.3 L1767.6,828.9 L1773.5,828.5 L1779.5,828.1 L1785.4,827.7 L1791.3,827.3 L1797.3,826.9 L1803.2,826.5 L1809.1,826.1 L1815.1,825.7 L1821.0,825.3 L1826.9,824.9 L1832.9,824.4 L1838.8,824.0 L1844.7,823.6 L1850.7,823.1 L1856.6,822.7 L1862.5,822.3 L1868.5,821.8 L1874.4,821.4 L1880.4,820.9 L1886.3,820.5 L1892.2,820.0 L1898.2,819.6 L1904.1,819.1 L1910.0,818.6 L1916.0,818.1 L1921.9,817.7 L1927.8,817.2 L1933.8,816.7 L1939.7,816.2 L1945.6,815.7 L1951.6,815.2 L1957.5,814.7 L1963.4,814.2 L1969.4,813.7 L1975.3,813.2 L1981.2,812.7 L1987.2,812.2 L1993.1,811.7 L1999.0,811.1 L2005.0,810.6 L2010.9,810.1 L2016.8,809.5 L2022.8,809.0 L2028.7,808.4 L2034.6,807.9 L2040.6,807.3 L2046.5,806.8 L2052.4,806.2 L2058.4,805.7 L2064.3,805.1 L2070.2,804.5 L2076.2,803.9 L2082.1,803.4 L2088.0,802.8 L2094.0,802.2 L2099.9,801.6 L2105.9,801.0 L2111.8,800.4 L2117.7,799.8 L2123.7,799.2 L2129.6,798.6 L2135.5,797.9 L2141.5,797.3 L2147.4,796.7 L2153.3,796.1 L2159.3,795.4 L2165.2,794.8 L2171.1,794.1 L2177.1,793.5 L2183.0,792.8 L2188.9,792.2 L2194.9,791.5 L2200.8,790.9 L2206.7,790.2 L2212.7,789.5 L2218.6,788.8 L2224.5,788.2 L2230.5,787.5 L2236.4,786.8 L2242.3,786.1 L2248.3,785.4 L2254.2,784.7 L2260.1,784.0 L2266.1,783.3 L2272.0,782.6 L2277.9,781.8 L2283.9,781.1 L2289.8,780.4 L2295.7,779.6 L2301.7,778.9 L2307.6,778.2 L2313.5,777.4 L2319.5,776.7 L2325.4,775.9 L2331.3,775.1 L2337.3,774.4 L2343.2,773.6 L2349.2,772.8 L2355.1,772.1 L2361.0,771.3 L2367.0,770.5 L2372.9,769.7 L2378.8,768.9 L2384.8,768.1 L2390.7,767.3 L2396.6,766.5 L2402.6,765.7 L2408.5,764.8 L2414.4,764.0 L2420.4,763.2 L2426.3,762.4 L2432.2,761.5 L2438.2,760.7 L2444.1,759.8 L2450.0,759.0 L2456.0,758.1 L2461.9,757.3 L2467.8,756.4 L2473.8,755.5 L2479.7,754.7 L2485.6,753.8 L2491.6,752.9 L2497.5,752.0 L2503.4,751.1 L2509.4,750.2 L2515.3,749.3 L2521.2,748.4 L2527.2,747.5 L2533.1,746.6 L2539.0,745.6 L2545.0,744.7 L2550.9,743.8 L2556.8,742.8 L2562.8,741.9 L2568.7,740.9 L2574.6,740.0 L2580.6,739.0 L2586.5,738.1 L2592.5,737.1 L2598.4,736.1 L2604.3,735.1 L2610.3,734.2 L2616.2,733.2 L2622.1,732.2 L2628.1,731.2 L2634.0,730.2 L2639.9,729.2 L2645.9,728.2 L2651.8,727.1 L2657.7,726.1 L2663.7,725.1 L2669.6,724.1 L2675.5,723.0 L2681.5,722.0 L2687.4,720.9 L2693.3,719.9 L2699.3,718.8 L2705.2,717.7 L2711.1,716.7 L2717.1,715.6 L2723.0,714.5 L2728.9,713.4 L2734.9,712.4 L2740.8,711.3 L2746.7,710.2 L2752.7,709.0 L2758.6,707.9 L2764.5,706.8 L2770.5,705.7 L2776.4,704.6 L2782.3,703.4 L2788.3,702.3 L2794.2,701.2 L2800.1,700.0 L2806.1,698.9 L2812.0,697.7 L2818.0,696.5 L2823.9,695.4 L2829.8,694.2 L2835.8,693.0 L2841.7,691.8 L2847.6,690.6 L2853.6,689.4 L2859.5,688.2 L2865.4,687.0 L2871.4,685.8 L2877.3,684.6 L2883.2,683.4 L2889.2,682.2 L2895.1,680.9 L2901.0,679.7 L2907.0,678.4 L2912.9,677.2 L2918.8,675.9 L2924.8,674.7 L2930.7,673.4" stroke="#444444" stroke-dasharray="22 12.5 3 14" stroke-dashoffset="23"/>
<path d="M1749.8,871.6 L1755.7,871.5 L1761.7,871.3 L1767.6,871.2 L1773.5,871.0 L1779.5,870.9 L1785.4,870.7 L1791.3,870.6 L1797.3,870.4 L1803.2,870.2 L1809.1,870.1 L1815.1,869.9 L1821.0,869.7 L1826.9,869.5 L1832.9,869.3 L1838.8,869.2 L1844.7,869.0 L1850.7,868.8 L1856.6,868.6 L1862.5,868.4 L1868.5,868.2 L1874.4,868.0 L1880.4,867.7 L1886.3,867.5 L1892.2,867.3 L1898.2,867.1 L1904.1,866.9 L1910.0,866.6 L1916.0,866.4 L1921.9,866.2 L1927.8,865.9 L1933.8,865.7 L1939.7,865.5 L1945.6,865.2 L1951.6,865.0 L1957.5,864.7 L1963.4,864.5 L1969.4,864.2 L1975.3,863.9 L1981.2,863.7 L1987.2,863.4 L1993.1,863.1 L1999.0,862.8 L2005.0,862.6 L2010.9,862.3 L2016.8,862.0 L2022.8,861.7 L2028.7,861.4 L2034.6,861.1 L2040.6,860.8 L2046.5,860.5 L2052.4,860.2 L2058.4,859.9 L2064.3,859.6 L2070.2,859.3 L2076.2,859.0 L2082.1,858.7 L2088.0,858.3 L2094.0,858.0 L2099.9,857.7 L2105.9,857.3 L2111.8,857.0 L2117.7,856.7 L2123.7,856.3 L2129.6,856.0 L2135.5,855.6 L2141.5,855.3 L2147.4,854.9 L2153.3,854.5 L2159.3,854.2 L2165.2,853.8 L2171.1,853.4 L2177.1,853.1 L2183.0,852.7 L2188.9,852.3 L2194.9,851.9 L2200.8,851.6 L2206.7,851.2 L2212.7,850.8 L2218.6,850.4 L2224.5,850.0 L2230.5,849.6 L2236.4,849.2 L2242.3,848.8 L2248.3,848.4 L2254.2,847.9 L2260.1,847.5 L2266.1,847.1 L2272.0,846.7 L2277.9,846.2 L2283.9,845.8 L2289.8,845.4 L2295.7,844.9 L2301.7,844.5 L2307.6,844.1 L2313.5,843.6 L2319.5,843.2 L2325.4,842.7 L2331.3,842.3 L2337.3,841.8 L2343.2,841.3 L2349.2,840.9 L2355.1,840.4 L2361.0,839.9 L2367.0,839.4 L2372.9,839.0 L2378.8,838.5 L2384.8,838.0 L2390.7,837.5 L2396.6,837.0 L2402.6,836.5 L2408.5,836.0 L2414.4,835.5 L2420.4,835.0 L2426.3,834.5 L2432.2,834.0 L2438.2,833.5 L2444.1,833.0 L2450.0,832.4 L2456.0,831.9 L2461.9,831.4 L2467.8,830.9 L2473.8,830.3 L2479.7,829.8 L2485.6,829.2 L2491.6,828.7 L2497.5,828.2 L2503.4,827.6 L2509.4,827.0 L2515.3,826.5 L2521.2,825.9 L2527.2,825.4 L2533.1,824.8 L2539.0,824.2 L2545.0,823.7 L2550.9,823.1 L2556.8,822.5 L2562.8,821.9 L2568.7,821.3 L2574.6,820.7 L2580.6,820.2 L2586.5,819.6 L2592.5,819.0 L2598.4,818.4 L2604.3,817.7 L2610.3,817.1 L2616.2,816.5 L2622.1,815.9 L2628.1,815.3 L2634.0,814.7 L2639.9,814.0 L2645.9,813.4 L2651.8,812.8 L2657.7,812.2 L2663.7,811.5 L2669.6,810.9 L2675.5,810.2 L2681.5,809.6 L2687.4,808.9 L2693.3,808.3 L2699.3,807.6 L2705.2,807.0 L2711.1,806.3 L2717.1,805.6 L2723.0,805.0 L2728.9,804.3 L2734.9,803.6 L2740.8,802.9 L2746.7,802.2 L2752.7,801.6 L2758.6,800.9 L2764.5,800.2 L2770.5,799.5 L2776.4,798.8 L2782.3,798.1 L2788.3,797.4 L2794.2,796.7 L2800.1,796.0 L2806.1,795.2 L2812.0,794.5 L2818.0,793.8 L2823.9,793.1 L2829.8,792.3 L2835.8,791.6 L2841.7,790.9 L2847.6,790.1 L2853.6,789.4 L2859.5,788.7 L2865.4,787.9 L2871.4,787.2 L2877.3,786.4 L2883.2,785.6 L2889.2,784.9 L2895.1,784.1 L2901.0,783.4 L2907.0,782.6 L2912.9,781.8 L2918.8,781.0 L2924.8,780.2 L2930.7,779.5" stroke="#555555" stroke-dasharray="22 12.5 3 14" stroke-dashoffset="23"/>
<path d="M1749.8,902.6 L1755.7,902.4 L1761.7,902.2 L1767.6,902.0 L1773.5,901.8 L1779.5,901.6 L1785.4,901.4 L1791.3,901.2 L1797.3,901.1 L1803.2,900.9 L1809.1,900.7 L1815.1,900.5 L1821.0,900.3 L1826.9,900.1 L1832.9,899.9 L1838.8,899.7 L1844.7,899.5 L1850.7,899.3 L1856.6,899.1 L1862.5,898.9 L1868.5,898.7 L1874.4,898.5 L1880.4,898.3 L1886.3,898.0 L1892.2,897.8 L1898.2,897.6 L1904.1,897.4 L1910.0,897.2 L1916.0,897.0 L1921.9,896.8 L1927.8,896.6 L1933.8,896.3 L1939.7,896.1 L1945.6,895.9 L1951.6,895.7 L1957.5,895.5 L1963.4,895.2 L1969.4,895.0 L1975.3,894.8 L1981.2,894.6 L1987.2,894.3 L1993.1,894.1 L1999.0,893.9 L2005.0,893.6 L2010.9,893.4 L2016.8,893.2 L2022.8,892.9 L2028.7,892.7 L2034.6,892.5 L2040.6,892.2 L2046.5,892.0 L2052.4,891.7 L2058.4,891.5 L2064.3,891.2 L2070.2,891.0 L2076.2,890.7 L2082.1,890.5 L2088.0,890.2 L2094.0,890.0 L2099.9,889.7 L2105.9,889.5 L2111.8,889.2 L2117.7,889.0 L2123.7,888.7 L2129.6,888.5 L2135.5,888.2 L2141.5,887.9 L2147.4,887.7 L2153.3,887.4 L2159.3,887.1 L2165.2,886.9 L2171.1,886.6 L2177.1,886.3 L2183.0,886.1 L2188.9,885.8 L2194.9,885.5 L2200.8,885.2 L2206.7,885.0 L2212.7,884.7 L2218.6,884.4 L2224.5,884.1 L2230.5,883.8 L2236.4,883.6 L2242.3,883.3 L2248.3,883.0 L2254.2,882.7 L2260.1,882.4 L2266.1,882.1 L2272.0,881.8 L2277.9,881.5 L2283.9,881.2 L2289.8,880.9 L2295.7,880.6 L2301.7,880.3 L2307.6,880.0 L2313.5,879.7 L2319.5,879.4 L2325.4,879.1 L2331.3,878.8 L2337.3,878.5 L2343.2,878.2 L2349.2,877.9 L2355.1,877.6 L2361.0,877.2 L2367.0,876.9 L2372.9,876.6 L2378.8,876.3 L2384.8,876.0 L2390.7,875.6 L2396.6,875.3 L2402.6,875.0 L2408.5,874.7 L2414.4,874.3 L2420.4,874.0 L2426.3,873.7 L2432.2,873.3 L2438.2,873.0 L2444.1,872.7 L2450.0,872.3 L2456.0,872.0 L2461.9,871.6 L2467.8,871.3 L2473.8,870.9 L2479.7,870.6 L2485.6,870.2 L2491.6,869.9 L2497.5,869.5 L2503.4,869.2 L2509.4,868.8 L2515.3,868.5 L2521.2,868.1 L2527.2,867.7 L2533.1,867.4 L2539.0,867.0 L2545.0,866.7 L2550.9,866.3 L2556.8,865.9 L2562.8,865.5 L2568.7,865.2 L2574.6,864.8 L2580.6,864.4 L2586.5,864.0 L2592.5,863.7 L2598.4,863.3 L2604.3,862.9 L2610.3,862.5 L2616.2,862.1 L2622.1,861.7 L2628.1,861.3 L2634.0,860.9 L2639.9,860.5 L2645.9,860.2 L2651.8,859.8 L2657.7,859.4 L2663.7,858.9 L2669.6,858.5 L2675.5,858.1 L2681.5,857.7 L2687.4,857.3 L2693.3,856.9 L2699.3,856.5 L2705.2,856.1 L2711.1,855.7 L2717.1,855.2 L2723.0,854.8 L2728.9,854.4 L2734.9,854.0 L2740.8,853.6 L2746.7,853.1 L2752.7,852.7 L2758.6,852.3 L2764.5,851.8 L2770.5,851.4 L2776.4,851.0 L2782.3,850.5 L2788.3,850.1 L2794.2,849.6 L2800.1,849.2 L2806.1,848.7 L2812.0,848.3 L2818.0,847.8 L2823.9,847.4 L2829.8,846.9 L2835.8,846.5 L2841.7,846.0 L2847.6,845.5 L2853.6,845.1 L2859.5,844.6 L2865.4,844.1 L2871.4,843.7 L2877.3,843.2 L2883.2,842.7 L2889.2,842.3 L2895.1,841.8 L2901.0,841.3 L2907.0,840.8 L2912.9,840.3 L2918.8,839.8 L2924.8,839.4 L2930.7,838.9" stroke="#555555" stroke-dasharray="22 12.5 3 14" stroke-dashoffset="23"/>
<path d="M1749.8,925.0 L1755.7,924.9 L1761.7,924.8 L1767.6,924.6 L1773.5,924.5 L1779.5,924.4 L1785.4,924.2 L1791.3,924.1 L1797.3,924.0 L1803.2,923.8 L1809.1,923.7 L1815.1,923.6 L1821.0,923.4 L1826.9,923.3 L1832.9,923.1 L1838.8,923.0 L1844.7,922.8 L1850.7,922.7 L1856.6,922.5 L1862.5,922.4 L1868.5,922.2 L1874.4,922.1 L1880.4,921.9 L1886.3,921.8 L1892.2,921.6 L1898.2,921.4 L1904.1,921.3 L1910.0,921.1 L1916.0,920.9 L1921.9,920.8 L1927.8,920.6 L1933.8,920.4 L1939.7,920.3 L1945.6,920.1 L1951.6,919.9 L1957.5,919.7 L1963.4,919.6 L1969.4,919.4 L1975.3,919.2 L1981.2,919.0 L1987.2,918.8 L1993.1,918.7 L1999.0,918.5 L2005.0,918.3 L2010.9,918.1 L2016.8,917.9 L2022.8,917.7 L2028.7,917.5 L2034.6,917.3 L2040.6,917.1 L2046.5,916.9 L2052.4,916.7 L2058.4,916.5 L2064.3,916.3 L2070.2,916.1 L2076.2,915.9 L2082.1,915.7 L2088.0,915.5 L2094.0,915.3 L2099.9,915.1 L2105.9,914.9 L2111.8,914.7 L2117.7,914.4 L2123.7,914.2 L2129.6,914.0 L2135.5,913.8 L2141.5,913.6 L2147.4,913.3 L2153.3,913.1 L2159.3,912.9 L2165.2,912.7 L2171.1,912.4 L2177.1,912.2 L2183.0,912.0 L2188.9,911.7 L2194.9,911.5 L2200.8,911.3 L2206.7,911.0 L2212.7,910.8 L2218.6,910.6 L2224.5,910.3 L2230.5,910.1 L2236.4,909.8 L2242.3,909.6 L2248.3,909.4 L2254.2,909.1 L2260.1,908.9 L2266.1,908.6 L2272.0,908.4 L2277.9,908.1 L2283.9,907.9 L2289.8,907.6 L2295.7,907.3 L2301.7,907.1 L2307.6,906.8 L2313.5,906.6 L2319.5,906.3 L2325.4,906.0 L2331.3,905.8 L2337.3,905.5 L2343.2,905.3 L2349.2,905.0 L2355.1,904.7 L2361.0,904.4 L2367.0,904.2 L2372.9,903.9 L2378.8,903.6 L2384.8,903.4 L2390.7,903.1 L2396.6,902.8 L2402.6,902.5 L2408.5,902.2 L2414.4,902.0 L2420.4,901.7 L2426.3,901.4 L2432.2,901.1 L2438.2,900.8 L2444.1,900.5 L2450.0,900.2 L2456.0,899.9 L2461.9,899.7 L2467.8,899.4 L2473.8,899.1 L2479.7,898.8 L2485.6,898.5 L2491.6,898.2 L2497.5,897.9 L2503.4,897.6 L2509.4,897.3 L2515.3,897.0 L2521.2,896.7 L2527.2,896.4 L2533.1,896.1 L2539.0,895.8 L2545.0,895.4 L2550.9,895.1 L2556.8,894.8 L2562.8,894.5 L2568.7,894.2 L2574.6,893.9 L2580.6,893.6 L2586.5,893.2 L2592.5,892.9 L2598.4,892.6 L2604.3,892.3 L2610.3,892.0 L2616.2,891.6 L2622.1,891.3 L2628.1,891.0 L2634.0,890.7 L2639.9,890.3 L2645.9,890.0 L2651.8,889.7 L2657.7,889.3 L2663.7,889.0 L2669.6,888.7 L2675.5,888.3 L2681.5,888.0 L2687.4,887.7 L2693.3,887.3 L2699.3,887.0 L2705.2,886.7 L2711.1,886.3 L2717.1,886.0 L2723.0,885.6 L2728.9,885.3 L2734.9,884.9 L2740.8,884.6 L2746.7,884.2 L2752.7,883.9 L2758.6,883.5 L2764.5,883.2 L2770.5,882.8 L2776.4,882.5 L2782.3,882.1 L2788.3,881.8 L2794.2,881.4 L2800.1,881.1 L2806.1,880.7 L2812.0,880.3 L2818.0,880.0 L2823.9,879.6 L2829.8,879.3 L2835.8,878.9 L2841.7,878.5 L2847.6,878.2 L2853.6,877.8 L2859.5,877.4 L2865.4,877.1 L2871.4,876.7 L2877.3,876.3 L2883.2,875.9 L2889.2,875.6 L2895.1,875.2 L2901.0,874.8 L2907.0,874.4 L2912.9,874.1 L2918.8,873.7 L2924.8,873.3 L2930.7,872.9" stroke="#555555" stroke-dasharray="22 12.5 3 14" stroke-dashoffset="23"/>
</g>
<g fill="none" stroke="#ababab" stroke-width="2.6">
<ellipse cx="2104.5" cy="610.7" rx="176.1" ry="51.5"/>
<ellipse cx="2725.5" cy="504.8" rx="58" ry="215.9"/>
</g>
<line x1="1928.4" y1="612.7" x2="1834" y2="612.7" stroke="#b0b0b0" stroke-width="2.6"/>
<polygon points="1800.2,612.7 1837.5,601.5 1837.5,623.9" fill="#b8b8b8"/>
<line x1="2783.6" y1="466.7" x2="2868" y2="466.7" stroke="#b0b0b0" stroke-width="2.6"/>
<polygon points="2904.5,466.7 2865.7,455.5 2865.7,477.9" fill="#b8b8b8"/>
<rect x="1749.8" y="29.5" width="1180.8999999999999" height="947.9" fill="none" stroke="#111" stroke-width="3"/>
<path d="M1749.8,977.4 h20 M1749.8,842.0 h20 M1749.8,706.6 h20 M1749.8,571.2 h20 M1749.8,435.7 h20 M1749.8,300.3 h20 M1749.8,164.9 h20 M1749.8,29.5 h20 M2930.7,948.7 h-20 M2930.7,862.5 h-20 M2930.7,776.3 h-20 M2930.7,690.2 h-20 M2930.7,604.0 h-20 M2930.7,517.8 h-20 M2930.7,431.6 h-20 M2930.7,345.5 h-20 M2930.7,259.3 h-20 M2930.7,173.1 h-20 M2930.7,86.9 h-20 M1749.8,977.4 v-20 M1946.6,977.4 v-20 M2143.4,977.4 v-20 M2340.2,977.4 v-20 M2537.1,977.4 v-20 M2733.9,977.4 v-20 M2930.7,977.4 v-20" stroke="#111" stroke-width="3" fill="none"/>
<g font-size="55">
<text x="1728" y="993.4" text-anchor="end">0</text>
<text x="1728" y="858.0" text-anchor="end">2</text>
<text x="1728" y="722.6" text-anchor="end">4</text>
<text x="1728" y="587.2" text-anchor="end">6</text>
<text x="1728" y="451.7" text-anchor="end">8</text>
<text x="1728" y="316.3" text-anchor="end">10</text>
<text x="1728" y="180.9" text-anchor="end">12</text>
<text x="1728" y="45.5" text-anchor="end">14</text>
<text x="2949.5" y="964.7">3</text>
<text x="2949.5" y="878.5">6</text>
<text x="2949.5" y="792.3">9</text>
<text x="2949.5" y="706.2">12</text>
<text x="2949.5" y="620.0">15</text>
<text x="2949.5" y="533.8">18</text>
<text x="2949.5" y="447.6">21</text>
<text x="2949.5" y="361.5">24</text>
<text x="2949.5" y="275.3">27</text>
<text x="2949.5" y="189.1">30</text>
<text x="2949.5" y="102.9">33</text>
<text x="1749.8" y="1036" text-anchor="middle">2.5</text>
<text x="1946.6" y="1036" text-anchor="middle">3.0</text>
<text x="2143.4" y="1036" text-anchor="middle">3.5</text>
<text x="2340.2" y="1036" text-anchor="middle">4.0</text>
<text x="2537.1" y="1036" text-anchor="middle">4.5</text>
<text x="2733.9" y="1036" text-anchor="middle">5.0</text>
<text x="2930.7" y="1036" text-anchor="middle">5.5</text>
</g>
<text font-size="55" x="2340.2" y="1108" text-anchor="middle" letter-spacing="0.3">Wavelength/μm</text>
<text font-size="55" transform="translate(1639.5,503.5) rotate(-90)" x="0" y="0" text-anchor="middle" letter-spacing="0.3">Nonlinear coefficient/(W<tspan font-size="32" dy="-21">−1</tspan><tspan dy="21">·m</tspan><tspan font-size="32" dy="-21">−1</tspan><tspan dy="21">)</tspan></text>
<text font-size="55" transform="translate(3027.5,503.6) rotate(90)" x="0" y="0" text-anchor="middle">Effective mode area/μm<tspan font-size="32" dy="-20">2</tspan></text>
<text font-size="55" x="1756.5" y="87.6">(b)</text>
<text font-size="55" x="2581.5" y="129.8" letter-spacing="0.4"><tspan font-style="italic">Λ</tspan>=2.0 μm</text>
<text font-size="55" x="2574" y="197.5" letter-spacing="0.2"><tspan font-style="italic">d</tspan><tspan font-size="32" dy="10">2</tspan><tspan dy="-10">=1.6 μm</tspan></text>
<line x1="1830" y1="87.0" x2="1872" y2="87.0" stroke="#444" stroke-width="3"/>
<text font-size="55" x="1890.5" y="100.6" letter-spacing="0.35"><tspan font-style="italic">d</tspan><tspan font-size="32" dy="10">1</tspan><tspan dy="-10">/</tspan><tspan font-style="italic">Λ</tspan>=0.045</text>
<line x1="2158.7" y1="87.0" x2="2180" y2="87.0" stroke="#222" stroke-width="3"/>
<line x1="2192.5" y1="87.0" x2="2195.5" y2="87.0" stroke="#222" stroke-width="3"/>
<text font-size="55" x="2224" y="100.6" letter-spacing="0.35"><tspan font-style="italic">d</tspan><tspan font-size="32" dy="10">1</tspan><tspan dy="-10">/</tspan><tspan font-style="italic">Λ</tspan>=0.045</text>
<line x1="1830" y1="146.0" x2="1872" y2="146.0" stroke="#b03a66" stroke-width="3"/>
<text font-size="55" x="1890.5" y="159.6" letter-spacing="0.35"><tspan font-style="italic">d</tspan><tspan font-size="32" dy="10">1</tspan><tspan dy="-10">/</tspan><tspan font-style="italic">Λ</tspan>=0.085</text>
<line x1="2158.7" y1="146.0" x2="2180" y2="146.0" stroke="#c04070" stroke-width="3"/>
<line x1="2192.5" y1="146.0" x2="2195.5" y2="146.0" stroke="#c04070" stroke-width="3"/>
<text font-size="55" x="2224" y="159.6" letter-spacing="0.35"><tspan font-style="italic">d</tspan><tspan font-size="32" dy="10">1</tspan><tspan dy="-10">/</tspan><tspan font-style="italic">Λ</tspan>=0.085</text>
<line x1="1830" y1="205.0" x2="1872" y2="205.0" stroke="#555" stroke-width="3"/>
<text font-size="55" x="1890.5" y="218.6" letter-spacing="0.35"><tspan font-style="italic">d</tspan><tspan font-size="32" dy="10">1</tspan><tspan dy="-10">/</tspan><tspan font-style="italic">Λ</tspan>=0.125</text>
<line x1="2158.7" y1="205.0" x2="2180" y2="205.0" stroke="#444" stroke-width="3"/>
<line x1="2192.5" y1="205.0" x2="2195.5" y2="205.0" stroke="#444" stroke-width="3"/>
<text font-size="55" x="2224" y="218.6" letter-spacing="0.35"><tspan font-style="italic">d</tspan><tspan font-size="32" dy="10">1</tspan><tspan dy="-10">/</tspan><tspan font-style="italic">Λ</tspan>=0.125</text>
<line x1="1830" y1="264.0" x2="1872" y2="264.0" stroke="#777" stroke-width="3"/>
<text font-size="55" x="1890.5" y="277.6" letter-spacing="0.35"><tspan font-style="italic">d</tspan><tspan font-size="32" dy="10">1</tspan><tspan dy="-10">/</tspan><tspan font-style="italic">Λ</tspan>=0.165</text>
<line x1="2158.7" y1="264.0" x2="2180" y2="264.0" stroke="#555" stroke-width="3"/>
<line x1="2192.5" y1="264.0" x2="2195.5" y2="264.0" stroke="#555" stroke-width="3"/>
<text font-size="55" x="2224" y="277.6" letter-spacing="0.35"><tspan font-style="italic">d</tspan><tspan font-size="32" dy="10">1</tspan><tspan dy="-10">/</tspan><tspan font-style="italic">Λ</tspan>=0.165</text>
<line x1="1830" y1="323.0" x2="1872" y2="323.0" stroke="#666" stroke-width="3"/>
<text font-size="55" x="1890.5" y="336.6" letter-spacing="0.35"><tspan font-style="italic">d</tspan><tspan font-size="32" dy="10">1</tspan><tspan dy="-10">/</tspan><tspan font-style="italic">Λ</tspan>=0.205</text>
<line x1="2158.7" y1="323.0" x2="2180" y2="323.0" stroke="#555" stroke-width="3"/>
<line x1="2192.5" y1="323.0" x2="2195.5" y2="323.0" stroke="#555" stroke-width="3"/>
<text font-size="55" x="2224" y="336.6" letter-spacing="0.35"><tspan font-style="italic">d</tspan><tspan font-size="32" dy="10">1</tspan><tspan dy="-10">/</tspan><tspan font-style="italic">Λ</tspan>=0.205</text>
<line x1="1830" y1="382.0" x2="1872" y2="382.0" stroke="#888a40" stroke-width="3"/>
<text font-size="55" x="1890.5" y="395.6" letter-spacing="0.35"><tspan font-style="italic">d</tspan><tspan font-size="32" dy="10">1</tspan><tspan dy="-10">/</tspan><tspan font-style="italic">Λ</tspan>=0.245</text>
<line x1="2158.7" y1="382.0" x2="2180" y2="382.0" stroke="#555" stroke-width="3"/>
<line x1="2192.5" y1="382.0" x2="2195.5" y2="382.0" stroke="#555" stroke-width="3"/>
<text font-size="55" x="2224" y="395.6" letter-spacing="0.35"><tspan font-style="italic">d</tspan><tspan font-size="32" dy="10">1</tspan><tspan dy="-10">/</tspan><tspan font-style="italic">Λ</tspan>=0.245</text>
</svg></body></html>
